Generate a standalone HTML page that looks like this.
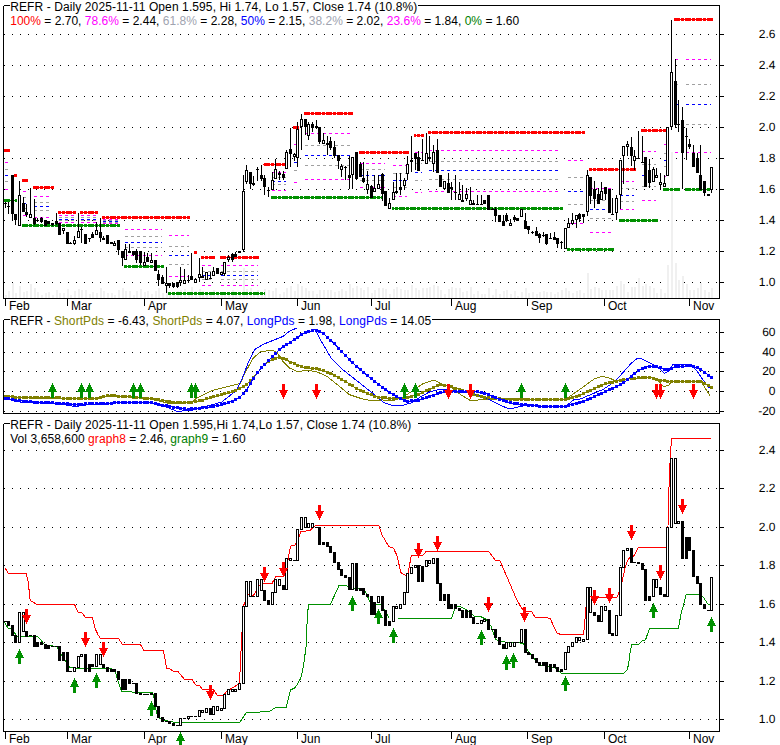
<!DOCTYPE html>
<html><head><meta charset="utf-8"><title>REFR chart</title>
<style>html,body{margin:0;padding:0;background:#fff}svg{display:block}</style></head>
<body>
<svg width="780" height="745" viewBox="0 0 780 745" shape-rendering="crispEdges" font-family="'Liberation Sans', sans-serif" font-size="12px">
<rect width="780" height="745" fill="#fff"/>
<line x1="4" x2="717" y1="34.5" y2="34.5" stroke="#000" stroke-width="1" stroke-dasharray="1 7"/>
<line x1="719" x2="724" y1="34.5" y2="34.5" stroke="#000" stroke-width="1"/>
<line x1="4" x2="717" y1="65.5" y2="65.5" stroke="#000" stroke-width="1" stroke-dasharray="1 7"/>
<line x1="719" x2="724" y1="65.5" y2="65.5" stroke="#000" stroke-width="1"/>
<line x1="4" x2="717" y1="96.5" y2="96.5" stroke="#000" stroke-width="1" stroke-dasharray="1 7"/>
<line x1="719" x2="724" y1="96.5" y2="96.5" stroke="#000" stroke-width="1"/>
<line x1="4" x2="717" y1="127.5" y2="127.5" stroke="#000" stroke-width="1" stroke-dasharray="1 7"/>
<line x1="719" x2="724" y1="127.5" y2="127.5" stroke="#000" stroke-width="1"/>
<line x1="4" x2="717" y1="158.5" y2="158.5" stroke="#000" stroke-width="1" stroke-dasharray="1 7"/>
<line x1="719" x2="724" y1="158.5" y2="158.5" stroke="#000" stroke-width="1"/>
<line x1="4" x2="717" y1="189.5" y2="189.5" stroke="#000" stroke-width="1" stroke-dasharray="1 7"/>
<line x1="719" x2="724" y1="189.5" y2="189.5" stroke="#000" stroke-width="1"/>
<line x1="4" x2="717" y1="220.5" y2="220.5" stroke="#000" stroke-width="1" stroke-dasharray="1 7"/>
<line x1="719" x2="724" y1="220.5" y2="220.5" stroke="#000" stroke-width="1"/>
<line x1="4" x2="717" y1="251.5" y2="251.5" stroke="#000" stroke-width="1" stroke-dasharray="1 7"/>
<line x1="719" x2="724" y1="251.5" y2="251.5" stroke="#000" stroke-width="1"/>
<line x1="4" x2="717" y1="282.5" y2="282.5" stroke="#000" stroke-width="1" stroke-dasharray="1 7"/>
<line x1="719" x2="724" y1="282.5" y2="282.5" stroke="#000" stroke-width="1"/>
<rect x="5" y="295" width="2" height="3" fill="#f0f0f0"/>
<rect x="8" y="291" width="2" height="7" fill="#f0f0f0"/>
<rect x="12" y="283" width="2" height="15" fill="#f0f0f0"/>
<rect x="15" y="293" width="2" height="5" fill="#f0f0f0"/>
<rect x="19" y="286" width="2" height="12" fill="#f0f0f0"/>
<rect x="23" y="292" width="2" height="6" fill="#f0f0f0"/>
<rect x="26" y="291" width="2" height="7" fill="#f0f0f0"/>
<rect x="30" y="284" width="2" height="14" fill="#f0f0f0"/>
<rect x="34" y="288" width="2" height="10" fill="#f0f0f0"/>
<rect x="37" y="292" width="2" height="6" fill="#f0f0f0"/>
<rect x="41" y="295" width="2" height="3" fill="#f0f0f0"/>
<rect x="45" y="293" width="2" height="5" fill="#f0f0f0"/>
<rect x="48" y="292" width="2" height="6" fill="#f0f0f0"/>
<rect x="52" y="295" width="2" height="3" fill="#f0f0f0"/>
<rect x="56" y="290" width="2" height="8" fill="#f0f0f0"/>
<rect x="59" y="293" width="2" height="5" fill="#f0f0f0"/>
<rect x="63" y="293" width="2" height="5" fill="#f0f0f0"/>
<rect x="67" y="289" width="2" height="9" fill="#f0f0f0"/>
<rect x="70" y="295" width="2" height="3" fill="#f0f0f0"/>
<rect x="74" y="291" width="2" height="7" fill="#f0f0f0"/>
<rect x="78" y="289" width="2" height="9" fill="#f0f0f0"/>
<rect x="81" y="290" width="2" height="8" fill="#f0f0f0"/>
<rect x="85" y="290" width="2" height="8" fill="#f0f0f0"/>
<rect x="89" y="294" width="2" height="4" fill="#f0f0f0"/>
<rect x="92" y="292" width="2" height="6" fill="#f0f0f0"/>
<rect x="96" y="293" width="2" height="5" fill="#f0f0f0"/>
<rect x="100" y="288" width="2" height="10" fill="#f0f0f0"/>
<rect x="103" y="291" width="2" height="7" fill="#f0f0f0"/>
<rect x="107" y="293" width="2" height="5" fill="#f0f0f0"/>
<rect x="111" y="293" width="2" height="5" fill="#f0f0f0"/>
<rect x="114" y="295" width="2" height="3" fill="#f0f0f0"/>
<rect x="118" y="290" width="2" height="8" fill="#f0f0f0"/>
<rect x="122" y="288" width="2" height="10" fill="#f0f0f0"/>
<rect x="125" y="291" width="2" height="7" fill="#f0f0f0"/>
<rect x="129" y="291" width="2" height="7" fill="#f0f0f0"/>
<rect x="133" y="295" width="2" height="3" fill="#f0f0f0"/>
<rect x="136" y="291" width="2" height="7" fill="#f0f0f0"/>
<rect x="140" y="289" width="2" height="9" fill="#f0f0f0"/>
<rect x="144" y="292" width="2" height="6" fill="#f0f0f0"/>
<rect x="147" y="291" width="2" height="7" fill="#f0f0f0"/>
<rect x="151" y="294" width="2" height="4" fill="#f0f0f0"/>
<rect x="155" y="291" width="2" height="7" fill="#f0f0f0"/>
<rect x="158" y="288" width="2" height="10" fill="#f0f0f0"/>
<rect x="162" y="293" width="2" height="5" fill="#f0f0f0"/>
<rect x="166" y="286" width="2" height="12" fill="#f0f0f0"/>
<rect x="169" y="295" width="2" height="3" fill="#f0f0f0"/>
<rect x="173" y="293" width="2" height="5" fill="#f0f0f0"/>
<rect x="177" y="291" width="2" height="7" fill="#f0f0f0"/>
<rect x="180" y="290" width="2" height="8" fill="#f0f0f0"/>
<rect x="184" y="289" width="2" height="9" fill="#f0f0f0"/>
<rect x="188" y="294" width="2" height="4" fill="#f0f0f0"/>
<rect x="191" y="287" width="2" height="11" fill="#f0f0f0"/>
<rect x="195" y="291" width="2" height="7" fill="#f0f0f0"/>
<rect x="199" y="289" width="2" height="9" fill="#f0f0f0"/>
<rect x="202" y="291" width="2" height="7" fill="#f0f0f0"/>
<rect x="206" y="295" width="2" height="3" fill="#f0f0f0"/>
<rect x="210" y="293" width="2" height="5" fill="#f0f0f0"/>
<rect x="213" y="290" width="2" height="8" fill="#f0f0f0"/>
<rect x="217" y="294" width="2" height="4" fill="#f0f0f0"/>
<rect x="221" y="293" width="2" height="5" fill="#f0f0f0"/>
<rect x="224" y="292" width="2" height="6" fill="#f0f0f0"/>
<rect x="228" y="292" width="2" height="6" fill="#f0f0f0"/>
<rect x="232" y="290" width="2" height="8" fill="#f0f0f0"/>
<rect x="235" y="294" width="2" height="4" fill="#f0f0f0"/>
<rect x="239" y="293" width="2" height="5" fill="#f0f0f0"/>
<rect x="243" y="268" width="2" height="30" fill="#f0f0f0"/>
<rect x="246" y="289" width="2" height="9" fill="#f0f0f0"/>
<rect x="250" y="288" width="2" height="10" fill="#f0f0f0"/>
<rect x="253" y="293" width="2" height="5" fill="#f0f0f0"/>
<rect x="257" y="290" width="2" height="8" fill="#f0f0f0"/>
<rect x="261" y="292" width="2" height="6" fill="#f0f0f0"/>
<rect x="264" y="289" width="2" height="9" fill="#f0f0f0"/>
<rect x="268" y="290" width="2" height="8" fill="#f0f0f0"/>
<rect x="272" y="291" width="2" height="7" fill="#f0f0f0"/>
<rect x="275" y="288" width="2" height="10" fill="#f0f0f0"/>
<rect x="279" y="294" width="2" height="4" fill="#f0f0f0"/>
<rect x="283" y="292" width="2" height="6" fill="#f0f0f0"/>
<rect x="286" y="288" width="2" height="10" fill="#f0f0f0"/>
<rect x="290" y="286" width="2" height="12" fill="#f0f0f0"/>
<rect x="294" y="291" width="2" height="7" fill="#f0f0f0"/>
<rect x="297" y="284" width="2" height="14" fill="#f0f0f0"/>
<rect x="301" y="286" width="2" height="12" fill="#f0f0f0"/>
<rect x="305" y="288" width="2" height="10" fill="#f0f0f0"/>
<rect x="308" y="291" width="2" height="7" fill="#f0f0f0"/>
<rect x="312" y="291" width="2" height="7" fill="#f0f0f0"/>
<rect x="316" y="294" width="2" height="4" fill="#f0f0f0"/>
<rect x="319" y="290" width="2" height="8" fill="#f0f0f0"/>
<rect x="323" y="290" width="2" height="8" fill="#f0f0f0"/>
<rect x="327" y="290" width="2" height="8" fill="#f0f0f0"/>
<rect x="330" y="290" width="2" height="8" fill="#f0f0f0"/>
<rect x="334" y="292" width="2" height="6" fill="#f0f0f0"/>
<rect x="338" y="291" width="2" height="7" fill="#f0f0f0"/>
<rect x="341" y="289" width="2" height="9" fill="#f0f0f0"/>
<rect x="345" y="291" width="2" height="7" fill="#f0f0f0"/>
<rect x="349" y="284" width="2" height="14" fill="#f0f0f0"/>
<rect x="352" y="288" width="2" height="10" fill="#f0f0f0"/>
<rect x="356" y="286" width="2" height="12" fill="#f0f0f0"/>
<rect x="360" y="288" width="2" height="10" fill="#f0f0f0"/>
<rect x="363" y="290" width="2" height="8" fill="#f0f0f0"/>
<rect x="367" y="287" width="2" height="11" fill="#f0f0f0"/>
<rect x="371" y="293" width="2" height="5" fill="#f0f0f0"/>
<rect x="374" y="290" width="2" height="8" fill="#f0f0f0"/>
<rect x="378" y="288" width="2" height="10" fill="#f0f0f0"/>
<rect x="382" y="288" width="2" height="10" fill="#f0f0f0"/>
<rect x="385" y="289" width="2" height="9" fill="#f0f0f0"/>
<rect x="389" y="294" width="2" height="4" fill="#f0f0f0"/>
<rect x="393" y="289" width="2" height="9" fill="#f0f0f0"/>
<rect x="396" y="287" width="2" height="11" fill="#f0f0f0"/>
<rect x="400" y="289" width="2" height="9" fill="#f0f0f0"/>
<rect x="404" y="290" width="2" height="8" fill="#f0f0f0"/>
<rect x="407" y="290" width="2" height="8" fill="#f0f0f0"/>
<rect x="411" y="285" width="2" height="13" fill="#f0f0f0"/>
<rect x="415" y="288" width="2" height="10" fill="#f0f0f0"/>
<rect x="418" y="290" width="2" height="8" fill="#f0f0f0"/>
<rect x="422" y="288" width="2" height="10" fill="#f0f0f0"/>
<rect x="426" y="288" width="2" height="10" fill="#f0f0f0"/>
<rect x="429" y="287" width="2" height="11" fill="#f0f0f0"/>
<rect x="433" y="285" width="2" height="13" fill="#f0f0f0"/>
<rect x="437" y="286" width="2" height="12" fill="#f0f0f0"/>
<rect x="440" y="290" width="2" height="8" fill="#f0f0f0"/>
<rect x="444" y="294" width="2" height="4" fill="#f0f0f0"/>
<rect x="448" y="289" width="2" height="9" fill="#f0f0f0"/>
<rect x="451" y="287" width="2" height="11" fill="#f0f0f0"/>
<rect x="455" y="288" width="2" height="10" fill="#f0f0f0"/>
<rect x="459" y="288" width="2" height="10" fill="#f0f0f0"/>
<rect x="462" y="292" width="2" height="6" fill="#f0f0f0"/>
<rect x="466" y="291" width="2" height="7" fill="#f0f0f0"/>
<rect x="470" y="287" width="2" height="11" fill="#f0f0f0"/>
<rect x="473" y="294" width="2" height="4" fill="#f0f0f0"/>
<rect x="477" y="291" width="2" height="7" fill="#f0f0f0"/>
<rect x="481" y="294" width="2" height="4" fill="#f0f0f0"/>
<rect x="484" y="294" width="2" height="4" fill="#f0f0f0"/>
<rect x="488" y="288" width="2" height="10" fill="#f0f0f0"/>
<rect x="492" y="295" width="2" height="3" fill="#f0f0f0"/>
<rect x="495" y="289" width="2" height="9" fill="#f0f0f0"/>
<rect x="499" y="294" width="2" height="4" fill="#f0f0f0"/>
<rect x="503" y="291" width="2" height="7" fill="#f0f0f0"/>
<rect x="506" y="290" width="2" height="8" fill="#f0f0f0"/>
<rect x="510" y="294" width="2" height="4" fill="#f0f0f0"/>
<rect x="514" y="291" width="2" height="7" fill="#f0f0f0"/>
<rect x="517" y="296" width="2" height="2" fill="#f0f0f0"/>
<rect x="521" y="292" width="2" height="6" fill="#f0f0f0"/>
<rect x="525" y="288" width="2" height="10" fill="#f0f0f0"/>
<rect x="528" y="293" width="2" height="5" fill="#f0f0f0"/>
<rect x="532" y="292" width="2" height="6" fill="#f0f0f0"/>
<rect x="536" y="294" width="2" height="4" fill="#f0f0f0"/>
<rect x="539" y="292" width="2" height="6" fill="#f0f0f0"/>
<rect x="543" y="291" width="2" height="7" fill="#f0f0f0"/>
<rect x="546" y="292" width="2" height="6" fill="#f0f0f0"/>
<rect x="550" y="292" width="2" height="6" fill="#f0f0f0"/>
<rect x="554" y="294" width="2" height="4" fill="#f0f0f0"/>
<rect x="557" y="292" width="2" height="6" fill="#f0f0f0"/>
<rect x="561" y="290" width="2" height="8" fill="#f0f0f0"/>
<rect x="565" y="288" width="2" height="10" fill="#f0f0f0"/>
<rect x="568" y="291" width="2" height="7" fill="#f0f0f0"/>
<rect x="572" y="293" width="2" height="5" fill="#f0f0f0"/>
<rect x="576" y="291" width="2" height="7" fill="#f0f0f0"/>
<rect x="579" y="290" width="2" height="8" fill="#f0f0f0"/>
<rect x="583" y="293" width="2" height="5" fill="#f0f0f0"/>
<rect x="587" y="273" width="2" height="25" fill="#f0f0f0"/>
<rect x="590" y="289" width="2" height="9" fill="#f0f0f0"/>
<rect x="594" y="287" width="2" height="11" fill="#f0f0f0"/>
<rect x="598" y="288" width="2" height="10" fill="#f0f0f0"/>
<rect x="601" y="290" width="2" height="8" fill="#f0f0f0"/>
<rect x="605" y="290" width="2" height="8" fill="#f0f0f0"/>
<rect x="609" y="290" width="2" height="8" fill="#f0f0f0"/>
<rect x="612" y="290" width="2" height="8" fill="#f0f0f0"/>
<rect x="616" y="286" width="2" height="12" fill="#f0f0f0"/>
<rect x="620" y="281" width="2" height="17" fill="#f0f0f0"/>
<rect x="623" y="284" width="2" height="14" fill="#f0f0f0"/>
<rect x="627" y="292" width="2" height="6" fill="#f0f0f0"/>
<rect x="631" y="287" width="2" height="11" fill="#f0f0f0"/>
<rect x="634" y="287" width="2" height="11" fill="#f0f0f0"/>
<rect x="638" y="278" width="2" height="20" fill="#f0f0f0"/>
<rect x="642" y="286" width="2" height="12" fill="#f0f0f0"/>
<rect x="645" y="284" width="2" height="14" fill="#f0f0f0"/>
<rect x="649" y="286" width="2" height="12" fill="#f0f0f0"/>
<rect x="653" y="288" width="2" height="10" fill="#f0f0f0"/>
<rect x="656" y="293" width="2" height="5" fill="#f0f0f0"/>
<rect x="660" y="289" width="2" height="9" fill="#f0f0f0"/>
<rect x="664" y="293" width="2" height="5" fill="#f0f0f0"/>
<rect x="667" y="265" width="2" height="33" fill="#f0f0f0"/>
<rect x="671" y="152" width="2" height="146" fill="#f0f0f0"/>
<rect x="675" y="263" width="2" height="35" fill="#f0f0f0"/>
<rect x="678" y="280" width="2" height="18" fill="#f0f0f0"/>
<rect x="682" y="276" width="2" height="22" fill="#f0f0f0"/>
<rect x="686" y="284" width="2" height="14" fill="#f0f0f0"/>
<rect x="689" y="290" width="2" height="8" fill="#f0f0f0"/>
<rect x="693" y="290" width="2" height="8" fill="#f0f0f0"/>
<rect x="697" y="288" width="2" height="10" fill="#f0f0f0"/>
<rect x="700" y="283" width="2" height="15" fill="#f0f0f0"/>
<rect x="704" y="290" width="2" height="8" fill="#f0f0f0"/>
<rect x="708" y="292" width="2" height="6" fill="#f0f0f0"/>
<rect x="711" y="288" width="2" height="10" fill="#f0f0f0"/>
<rect x="5" y="162" width="3" height="1" fill="#ff00ff"/>
<rect x="5" y="169" width="3" height="1" fill="#a0a0a0"/>
<rect x="5" y="175" width="3" height="1" fill="#0000ff"/>
<rect x="5" y="181" width="3" height="1" fill="#a0a0a0"/>
<rect x="5" y="189" width="3" height="1" fill="#ff00ff"/>
<rect x="23" y="191" width="3" height="1" fill="#ff00ff"/>
<rect x="23" y="197" width="3" height="1" fill="#a0a0a0"/>
<rect x="23" y="203" width="3" height="1" fill="#0000ff"/>
<rect x="23" y="208" width="3" height="1" fill="#a0a0a0"/>
<rect x="23" y="215" width="3" height="1" fill="#ff00ff"/>
<rect x="34" y="196" width="3" height="1" fill="#ff00ff"/>
<rect x="40" y="196" width="3" height="1" fill="#ff00ff"/>
<rect x="46" y="196" width="3" height="1" fill="#ff00ff"/>
<rect x="34" y="202" width="3" height="1" fill="#a0a0a0"/>
<rect x="40" y="202" width="3" height="1" fill="#a0a0a0"/>
<rect x="46" y="202" width="3" height="1" fill="#a0a0a0"/>
<rect x="34" y="206" width="3" height="1" fill="#0000ff"/>
<rect x="40" y="206" width="3" height="1" fill="#0000ff"/>
<rect x="46" y="206" width="3" height="1" fill="#0000ff"/>
<rect x="34" y="210" width="3" height="1" fill="#a0a0a0"/>
<rect x="40" y="210" width="3" height="1" fill="#a0a0a0"/>
<rect x="46" y="210" width="3" height="1" fill="#a0a0a0"/>
<rect x="34" y="217" width="3" height="1" fill="#ff00ff"/>
<rect x="40" y="217" width="3" height="1" fill="#ff00ff"/>
<rect x="46" y="217" width="3" height="1" fill="#ff00ff"/>
<rect x="59" y="215" width="3" height="1" fill="#ff00ff"/>
<rect x="65" y="215" width="3" height="1" fill="#ff00ff"/>
<rect x="71" y="215" width="3" height="1" fill="#ff00ff"/>
<rect x="59" y="217" width="3" height="1" fill="#a0a0a0"/>
<rect x="65" y="217" width="3" height="1" fill="#a0a0a0"/>
<rect x="71" y="217" width="3" height="1" fill="#a0a0a0"/>
<rect x="59" y="219" width="3" height="1" fill="#0000ff"/>
<rect x="65" y="219" width="3" height="1" fill="#0000ff"/>
<rect x="71" y="219" width="3" height="1" fill="#0000ff"/>
<rect x="59" y="220" width="3" height="1" fill="#a0a0a0"/>
<rect x="65" y="220" width="3" height="1" fill="#a0a0a0"/>
<rect x="71" y="220" width="3" height="1" fill="#a0a0a0"/>
<rect x="59" y="222" width="3" height="1" fill="#ff00ff"/>
<rect x="65" y="222" width="3" height="1" fill="#ff00ff"/>
<rect x="71" y="222" width="3" height="1" fill="#ff00ff"/>
<rect x="81" y="215" width="3" height="1" fill="#ff00ff"/>
<rect x="87" y="215" width="3" height="1" fill="#ff00ff"/>
<rect x="93" y="215" width="3" height="1" fill="#ff00ff"/>
<rect x="81" y="217" width="3" height="1" fill="#a0a0a0"/>
<rect x="87" y="217" width="3" height="1" fill="#a0a0a0"/>
<rect x="93" y="217" width="3" height="1" fill="#a0a0a0"/>
<rect x="81" y="219" width="3" height="1" fill="#0000ff"/>
<rect x="87" y="219" width="3" height="1" fill="#0000ff"/>
<rect x="93" y="219" width="3" height="1" fill="#0000ff"/>
<rect x="81" y="220" width="3" height="1" fill="#a0a0a0"/>
<rect x="87" y="220" width="3" height="1" fill="#a0a0a0"/>
<rect x="93" y="220" width="3" height="1" fill="#a0a0a0"/>
<rect x="81" y="222" width="3" height="1" fill="#ff00ff"/>
<rect x="87" y="222" width="3" height="1" fill="#ff00ff"/>
<rect x="93" y="222" width="3" height="1" fill="#ff00ff"/>
<rect x="103" y="219" width="3" height="1" fill="#ff00ff"/>
<rect x="109" y="219" width="3" height="1" fill="#ff00ff"/>
<rect x="115" y="219" width="3" height="1" fill="#ff00ff"/>
<rect x="103" y="220" width="3" height="1" fill="#a0a0a0"/>
<rect x="109" y="220" width="3" height="1" fill="#a0a0a0"/>
<rect x="115" y="220" width="3" height="1" fill="#a0a0a0"/>
<rect x="103" y="221" width="3" height="1" fill="#0000ff"/>
<rect x="109" y="221" width="3" height="1" fill="#0000ff"/>
<rect x="115" y="221" width="3" height="1" fill="#0000ff"/>
<rect x="103" y="222" width="3" height="1" fill="#a0a0a0"/>
<rect x="109" y="222" width="3" height="1" fill="#a0a0a0"/>
<rect x="115" y="222" width="3" height="1" fill="#a0a0a0"/>
<rect x="103" y="223" width="3" height="1" fill="#ff00ff"/>
<rect x="109" y="223" width="3" height="1" fill="#ff00ff"/>
<rect x="115" y="223" width="3" height="1" fill="#ff00ff"/>
<rect x="125" y="229" width="3" height="1" fill="#ff00ff"/>
<rect x="131" y="229" width="3" height="1" fill="#ff00ff"/>
<rect x="137" y="229" width="3" height="1" fill="#ff00ff"/>
<rect x="143" y="229" width="3" height="1" fill="#ff00ff"/>
<rect x="149" y="229" width="3" height="1" fill="#ff00ff"/>
<rect x="155" y="229" width="3" height="1" fill="#ff00ff"/>
<rect x="161" y="229" width="1.3" height="1" fill="#ff00ff"/>
<rect x="125" y="236" width="3" height="1" fill="#a0a0a0"/>
<rect x="131" y="236" width="3" height="1" fill="#a0a0a0"/>
<rect x="137" y="236" width="3" height="1" fill="#a0a0a0"/>
<rect x="143" y="236" width="3" height="1" fill="#a0a0a0"/>
<rect x="149" y="236" width="3" height="1" fill="#a0a0a0"/>
<rect x="155" y="236" width="3" height="1" fill="#a0a0a0"/>
<rect x="161" y="236" width="1.3" height="1" fill="#a0a0a0"/>
<rect x="125" y="242" width="3" height="1" fill="#0000ff"/>
<rect x="131" y="242" width="3" height="1" fill="#0000ff"/>
<rect x="137" y="242" width="3" height="1" fill="#0000ff"/>
<rect x="143" y="242" width="3" height="1" fill="#0000ff"/>
<rect x="149" y="242" width="3" height="1" fill="#0000ff"/>
<rect x="155" y="242" width="3" height="1" fill="#0000ff"/>
<rect x="161" y="242" width="1.3" height="1" fill="#0000ff"/>
<rect x="125" y="247" width="3" height="1" fill="#a0a0a0"/>
<rect x="131" y="247" width="3" height="1" fill="#a0a0a0"/>
<rect x="137" y="247" width="3" height="1" fill="#a0a0a0"/>
<rect x="143" y="247" width="3" height="1" fill="#a0a0a0"/>
<rect x="149" y="247" width="3" height="1" fill="#a0a0a0"/>
<rect x="155" y="247" width="3" height="1" fill="#a0a0a0"/>
<rect x="161" y="247" width="1.3" height="1" fill="#a0a0a0"/>
<rect x="125" y="255" width="3" height="1" fill="#ff00ff"/>
<rect x="131" y="255" width="3" height="1" fill="#ff00ff"/>
<rect x="137" y="255" width="3" height="1" fill="#ff00ff"/>
<rect x="143" y="255" width="3" height="1" fill="#ff00ff"/>
<rect x="149" y="255" width="3" height="1" fill="#ff00ff"/>
<rect x="155" y="255" width="3" height="1" fill="#ff00ff"/>
<rect x="161" y="255" width="1.3" height="1" fill="#ff00ff"/>
<rect x="169" y="235" width="3" height="1" fill="#ff00ff"/>
<rect x="175" y="235" width="3" height="1" fill="#ff00ff"/>
<rect x="181" y="235" width="3" height="1" fill="#ff00ff"/>
<rect x="187" y="235" width="1.5" height="1" fill="#ff00ff"/>
<rect x="169" y="246" width="3" height="1" fill="#a0a0a0"/>
<rect x="175" y="246" width="3" height="1" fill="#a0a0a0"/>
<rect x="181" y="246" width="3" height="1" fill="#a0a0a0"/>
<rect x="187" y="246" width="1.5" height="1" fill="#a0a0a0"/>
<rect x="169" y="255" width="3" height="1" fill="#0000ff"/>
<rect x="175" y="255" width="3" height="1" fill="#0000ff"/>
<rect x="181" y="255" width="3" height="1" fill="#0000ff"/>
<rect x="187" y="255" width="1.5" height="1" fill="#0000ff"/>
<rect x="169" y="264" width="3" height="1" fill="#a0a0a0"/>
<rect x="175" y="264" width="3" height="1" fill="#a0a0a0"/>
<rect x="181" y="264" width="3" height="1" fill="#a0a0a0"/>
<rect x="187" y="264" width="1.5" height="1" fill="#a0a0a0"/>
<rect x="169" y="276" width="3" height="1" fill="#ff00ff"/>
<rect x="175" y="276" width="3" height="1" fill="#ff00ff"/>
<rect x="181" y="276" width="3" height="1" fill="#ff00ff"/>
<rect x="187" y="276" width="1.5" height="1" fill="#ff00ff"/>
<rect x="202" y="265" width="3" height="1" fill="#ff00ff"/>
<rect x="208" y="265" width="3" height="1" fill="#ff00ff"/>
<rect x="202" y="271" width="3" height="1" fill="#a0a0a0"/>
<rect x="208" y="271" width="3" height="1" fill="#a0a0a0"/>
<rect x="202" y="275" width="3" height="1" fill="#0000ff"/>
<rect x="208" y="275" width="3" height="1" fill="#0000ff"/>
<rect x="202" y="279" width="3" height="1" fill="#a0a0a0"/>
<rect x="208" y="279" width="3" height="1" fill="#a0a0a0"/>
<rect x="202" y="285" width="3" height="1" fill="#ff00ff"/>
<rect x="208" y="285" width="3" height="1" fill="#ff00ff"/>
<rect x="221" y="265" width="3" height="1" fill="#ff00ff"/>
<rect x="227" y="265" width="3" height="1" fill="#ff00ff"/>
<rect x="233" y="265" width="3" height="1" fill="#ff00ff"/>
<rect x="239" y="265" width="3" height="1" fill="#ff00ff"/>
<rect x="245" y="265" width="3" height="1" fill="#ff00ff"/>
<rect x="251" y="265" width="3" height="1" fill="#ff00ff"/>
<rect x="257" y="265" width="1" height="1" fill="#ff00ff"/>
<rect x="221" y="271" width="3" height="1" fill="#a0a0a0"/>
<rect x="227" y="271" width="3" height="1" fill="#a0a0a0"/>
<rect x="233" y="271" width="3" height="1" fill="#a0a0a0"/>
<rect x="239" y="271" width="3" height="1" fill="#a0a0a0"/>
<rect x="245" y="271" width="3" height="1" fill="#a0a0a0"/>
<rect x="251" y="271" width="3" height="1" fill="#a0a0a0"/>
<rect x="257" y="271" width="1" height="1" fill="#a0a0a0"/>
<rect x="221" y="275" width="3" height="1" fill="#0000ff"/>
<rect x="227" y="275" width="3" height="1" fill="#0000ff"/>
<rect x="233" y="275" width="3" height="1" fill="#0000ff"/>
<rect x="239" y="275" width="3" height="1" fill="#0000ff"/>
<rect x="245" y="275" width="3" height="1" fill="#0000ff"/>
<rect x="251" y="275" width="3" height="1" fill="#0000ff"/>
<rect x="257" y="275" width="1" height="1" fill="#0000ff"/>
<rect x="221" y="279" width="3" height="1" fill="#a0a0a0"/>
<rect x="227" y="279" width="3" height="1" fill="#a0a0a0"/>
<rect x="233" y="279" width="3" height="1" fill="#a0a0a0"/>
<rect x="239" y="279" width="3" height="1" fill="#a0a0a0"/>
<rect x="245" y="279" width="3" height="1" fill="#a0a0a0"/>
<rect x="251" y="279" width="3" height="1" fill="#a0a0a0"/>
<rect x="257" y="279" width="1" height="1" fill="#a0a0a0"/>
<rect x="221" y="285" width="3" height="1" fill="#ff00ff"/>
<rect x="227" y="285" width="3" height="1" fill="#ff00ff"/>
<rect x="233" y="285" width="3" height="1" fill="#ff00ff"/>
<rect x="239" y="285" width="3" height="1" fill="#ff00ff"/>
<rect x="245" y="285" width="3" height="1" fill="#ff00ff"/>
<rect x="251" y="285" width="3" height="1" fill="#ff00ff"/>
<rect x="257" y="285" width="1" height="1" fill="#ff00ff"/>
<rect x="272" y="172" width="3" height="1" fill="#ff00ff"/>
<rect x="278" y="172" width="3" height="1" fill="#ff00ff"/>
<rect x="284" y="172" width="2" height="1" fill="#ff00ff"/>
<rect x="272" y="177" width="3" height="1" fill="#a0a0a0"/>
<rect x="278" y="177" width="3" height="1" fill="#a0a0a0"/>
<rect x="284" y="177" width="2" height="1" fill="#a0a0a0"/>
<rect x="272" y="181" width="3" height="1" fill="#0000ff"/>
<rect x="278" y="181" width="3" height="1" fill="#0000ff"/>
<rect x="284" y="181" width="2" height="1" fill="#0000ff"/>
<rect x="272" y="184" width="3" height="1" fill="#a0a0a0"/>
<rect x="278" y="184" width="3" height="1" fill="#a0a0a0"/>
<rect x="284" y="184" width="2" height="1" fill="#a0a0a0"/>
<rect x="272" y="190" width="3" height="1" fill="#ff00ff"/>
<rect x="278" y="190" width="3" height="1" fill="#ff00ff"/>
<rect x="284" y="190" width="2" height="1" fill="#ff00ff"/>
<rect x="294" y="144" width="3" height="1" fill="#ff00ff"/>
<rect x="294" y="154" width="3" height="1" fill="#a0a0a0"/>
<rect x="294" y="162" width="3" height="1" fill="#0000ff"/>
<rect x="294" y="170" width="3" height="1" fill="#a0a0a0"/>
<rect x="294" y="182" width="3" height="1" fill="#ff00ff"/>
<rect x="305" y="133" width="3" height="1" fill="#ff00ff"/>
<rect x="311" y="133" width="3" height="1" fill="#ff00ff"/>
<rect x="317" y="133" width="3" height="1" fill="#ff00ff"/>
<rect x="323" y="133" width="3" height="1" fill="#ff00ff"/>
<rect x="329" y="133" width="3" height="1" fill="#ff00ff"/>
<rect x="335" y="133" width="3" height="1" fill="#ff00ff"/>
<rect x="341" y="133" width="3" height="1" fill="#ff00ff"/>
<rect x="347" y="133" width="3" height="1" fill="#ff00ff"/>
<rect x="305" y="145" width="3" height="1" fill="#a0a0a0"/>
<rect x="311" y="145" width="3" height="1" fill="#a0a0a0"/>
<rect x="317" y="145" width="3" height="1" fill="#a0a0a0"/>
<rect x="323" y="145" width="3" height="1" fill="#a0a0a0"/>
<rect x="329" y="145" width="3" height="1" fill="#a0a0a0"/>
<rect x="335" y="145" width="3" height="1" fill="#a0a0a0"/>
<rect x="341" y="145" width="3" height="1" fill="#a0a0a0"/>
<rect x="347" y="145" width="3" height="1" fill="#a0a0a0"/>
<rect x="305" y="155" width="3" height="1" fill="#0000ff"/>
<rect x="311" y="155" width="3" height="1" fill="#0000ff"/>
<rect x="317" y="155" width="3" height="1" fill="#0000ff"/>
<rect x="323" y="155" width="3" height="1" fill="#0000ff"/>
<rect x="329" y="155" width="3" height="1" fill="#0000ff"/>
<rect x="335" y="155" width="3" height="1" fill="#0000ff"/>
<rect x="341" y="155" width="3" height="1" fill="#0000ff"/>
<rect x="347" y="155" width="3" height="1" fill="#0000ff"/>
<rect x="305" y="165" width="3" height="1" fill="#a0a0a0"/>
<rect x="311" y="165" width="3" height="1" fill="#a0a0a0"/>
<rect x="317" y="165" width="3" height="1" fill="#a0a0a0"/>
<rect x="323" y="165" width="3" height="1" fill="#a0a0a0"/>
<rect x="329" y="165" width="3" height="1" fill="#a0a0a0"/>
<rect x="335" y="165" width="3" height="1" fill="#a0a0a0"/>
<rect x="341" y="165" width="3" height="1" fill="#a0a0a0"/>
<rect x="347" y="165" width="3" height="1" fill="#a0a0a0"/>
<rect x="305" y="179" width="3" height="1" fill="#ff00ff"/>
<rect x="311" y="179" width="3" height="1" fill="#ff00ff"/>
<rect x="317" y="179" width="3" height="1" fill="#ff00ff"/>
<rect x="323" y="179" width="3" height="1" fill="#ff00ff"/>
<rect x="329" y="179" width="3" height="1" fill="#ff00ff"/>
<rect x="335" y="179" width="3" height="1" fill="#ff00ff"/>
<rect x="341" y="179" width="3" height="1" fill="#ff00ff"/>
<rect x="347" y="179" width="3" height="1" fill="#ff00ff"/>
<rect x="360" y="163" width="3" height="1" fill="#ff00ff"/>
<rect x="366" y="163" width="3" height="1" fill="#ff00ff"/>
<rect x="372" y="163" width="3" height="1" fill="#ff00ff"/>
<rect x="378" y="163" width="3" height="1" fill="#ff00ff"/>
<rect x="384" y="163" width="1" height="1" fill="#ff00ff"/>
<rect x="360" y="169" width="3" height="1" fill="#a0a0a0"/>
<rect x="366" y="169" width="3" height="1" fill="#a0a0a0"/>
<rect x="372" y="169" width="3" height="1" fill="#a0a0a0"/>
<rect x="378" y="169" width="3" height="1" fill="#a0a0a0"/>
<rect x="384" y="169" width="1" height="1" fill="#a0a0a0"/>
<rect x="360" y="175" width="3" height="1" fill="#0000ff"/>
<rect x="366" y="175" width="3" height="1" fill="#0000ff"/>
<rect x="372" y="175" width="3" height="1" fill="#0000ff"/>
<rect x="378" y="175" width="3" height="1" fill="#0000ff"/>
<rect x="384" y="175" width="1" height="1" fill="#0000ff"/>
<rect x="360" y="180" width="3" height="1" fill="#a0a0a0"/>
<rect x="366" y="180" width="3" height="1" fill="#a0a0a0"/>
<rect x="372" y="180" width="3" height="1" fill="#a0a0a0"/>
<rect x="378" y="180" width="3" height="1" fill="#a0a0a0"/>
<rect x="384" y="180" width="1" height="1" fill="#a0a0a0"/>
<rect x="360" y="187" width="3" height="1" fill="#ff00ff"/>
<rect x="366" y="187" width="3" height="1" fill="#ff00ff"/>
<rect x="372" y="187" width="3" height="1" fill="#ff00ff"/>
<rect x="378" y="187" width="3" height="1" fill="#ff00ff"/>
<rect x="384" y="187" width="1" height="1" fill="#ff00ff"/>
<rect x="393" y="165" width="3" height="1" fill="#ff00ff"/>
<rect x="399" y="165" width="3" height="1" fill="#ff00ff"/>
<rect x="405" y="165" width="2" height="1" fill="#ff00ff"/>
<rect x="393" y="173" width="3" height="1" fill="#a0a0a0"/>
<rect x="399" y="173" width="3" height="1" fill="#a0a0a0"/>
<rect x="405" y="173" width="2" height="1" fill="#a0a0a0"/>
<rect x="393" y="180" width="3" height="1" fill="#0000ff"/>
<rect x="399" y="180" width="3" height="1" fill="#0000ff"/>
<rect x="405" y="180" width="2" height="1" fill="#0000ff"/>
<rect x="393" y="187" width="3" height="1" fill="#a0a0a0"/>
<rect x="399" y="187" width="3" height="1" fill="#a0a0a0"/>
<rect x="405" y="187" width="2" height="1" fill="#a0a0a0"/>
<rect x="393" y="196" width="3" height="1" fill="#ff00ff"/>
<rect x="399" y="196" width="3" height="1" fill="#ff00ff"/>
<rect x="405" y="196" width="2" height="1" fill="#ff00ff"/>
<rect x="415" y="152" width="3" height="1" fill="#ff00ff"/>
<rect x="421" y="152" width="1" height="1" fill="#ff00ff"/>
<rect x="415" y="163" width="3" height="1" fill="#a0a0a0"/>
<rect x="421" y="163" width="1" height="1" fill="#a0a0a0"/>
<rect x="415" y="172" width="3" height="1" fill="#0000ff"/>
<rect x="421" y="172" width="1" height="1" fill="#0000ff"/>
<rect x="415" y="180" width="3" height="1" fill="#a0a0a0"/>
<rect x="421" y="180" width="1" height="1" fill="#a0a0a0"/>
<rect x="415" y="192" width="3" height="1" fill="#ff00ff"/>
<rect x="421" y="192" width="1" height="1" fill="#ff00ff"/>
<rect x="429" y="150" width="3" height="1" fill="#ff00ff"/>
<rect x="435" y="150" width="3" height="1" fill="#ff00ff"/>
<rect x="441" y="150" width="3" height="1" fill="#ff00ff"/>
<rect x="447" y="150" width="3" height="1" fill="#ff00ff"/>
<rect x="453" y="150" width="3" height="1" fill="#ff00ff"/>
<rect x="459" y="150" width="3" height="1" fill="#ff00ff"/>
<rect x="465" y="150" width="3" height="1" fill="#ff00ff"/>
<rect x="471" y="150" width="3" height="1" fill="#ff00ff"/>
<rect x="477" y="150" width="3" height="1" fill="#ff00ff"/>
<rect x="483" y="150" width="3" height="1" fill="#ff00ff"/>
<rect x="489" y="150" width="3" height="1" fill="#ff00ff"/>
<rect x="495" y="150" width="3" height="1" fill="#ff00ff"/>
<rect x="501" y="150" width="3" height="1" fill="#ff00ff"/>
<rect x="507" y="150" width="3" height="1" fill="#ff00ff"/>
<rect x="513" y="150" width="3" height="1" fill="#ff00ff"/>
<rect x="519" y="150" width="3" height="1" fill="#ff00ff"/>
<rect x="525" y="150" width="3" height="1" fill="#ff00ff"/>
<rect x="531" y="150" width="3" height="1" fill="#ff00ff"/>
<rect x="537" y="150" width="3" height="1" fill="#ff00ff"/>
<rect x="543" y="150" width="3" height="1" fill="#ff00ff"/>
<rect x="549" y="150" width="3" height="1" fill="#ff00ff"/>
<rect x="555" y="150" width="3" height="1" fill="#ff00ff"/>
<rect x="429" y="161" width="3" height="1" fill="#a0a0a0"/>
<rect x="435" y="161" width="3" height="1" fill="#a0a0a0"/>
<rect x="441" y="161" width="3" height="1" fill="#a0a0a0"/>
<rect x="447" y="161" width="3" height="1" fill="#a0a0a0"/>
<rect x="453" y="161" width="3" height="1" fill="#a0a0a0"/>
<rect x="459" y="161" width="3" height="1" fill="#a0a0a0"/>
<rect x="465" y="161" width="3" height="1" fill="#a0a0a0"/>
<rect x="471" y="161" width="3" height="1" fill="#a0a0a0"/>
<rect x="477" y="161" width="3" height="1" fill="#a0a0a0"/>
<rect x="483" y="161" width="3" height="1" fill="#a0a0a0"/>
<rect x="489" y="161" width="3" height="1" fill="#a0a0a0"/>
<rect x="495" y="161" width="3" height="1" fill="#a0a0a0"/>
<rect x="501" y="161" width="3" height="1" fill="#a0a0a0"/>
<rect x="507" y="161" width="3" height="1" fill="#a0a0a0"/>
<rect x="513" y="161" width="3" height="1" fill="#a0a0a0"/>
<rect x="519" y="161" width="3" height="1" fill="#a0a0a0"/>
<rect x="525" y="161" width="3" height="1" fill="#a0a0a0"/>
<rect x="531" y="161" width="3" height="1" fill="#a0a0a0"/>
<rect x="537" y="161" width="3" height="1" fill="#a0a0a0"/>
<rect x="543" y="161" width="3" height="1" fill="#a0a0a0"/>
<rect x="549" y="161" width="3" height="1" fill="#a0a0a0"/>
<rect x="555" y="161" width="3" height="1" fill="#a0a0a0"/>
<rect x="429" y="170" width="3" height="1" fill="#0000ff"/>
<rect x="435" y="170" width="3" height="1" fill="#0000ff"/>
<rect x="441" y="170" width="3" height="1" fill="#0000ff"/>
<rect x="447" y="170" width="3" height="1" fill="#0000ff"/>
<rect x="453" y="170" width="3" height="1" fill="#0000ff"/>
<rect x="459" y="170" width="3" height="1" fill="#0000ff"/>
<rect x="465" y="170" width="3" height="1" fill="#0000ff"/>
<rect x="471" y="170" width="3" height="1" fill="#0000ff"/>
<rect x="477" y="170" width="3" height="1" fill="#0000ff"/>
<rect x="483" y="170" width="3" height="1" fill="#0000ff"/>
<rect x="489" y="170" width="3" height="1" fill="#0000ff"/>
<rect x="495" y="170" width="3" height="1" fill="#0000ff"/>
<rect x="501" y="170" width="3" height="1" fill="#0000ff"/>
<rect x="507" y="170" width="3" height="1" fill="#0000ff"/>
<rect x="513" y="170" width="3" height="1" fill="#0000ff"/>
<rect x="519" y="170" width="3" height="1" fill="#0000ff"/>
<rect x="525" y="170" width="3" height="1" fill="#0000ff"/>
<rect x="531" y="170" width="3" height="1" fill="#0000ff"/>
<rect x="537" y="170" width="3" height="1" fill="#0000ff"/>
<rect x="543" y="170" width="3" height="1" fill="#0000ff"/>
<rect x="549" y="170" width="3" height="1" fill="#0000ff"/>
<rect x="555" y="170" width="3" height="1" fill="#0000ff"/>
<rect x="429" y="179" width="3" height="1" fill="#a0a0a0"/>
<rect x="435" y="179" width="3" height="1" fill="#a0a0a0"/>
<rect x="441" y="179" width="3" height="1" fill="#a0a0a0"/>
<rect x="447" y="179" width="3" height="1" fill="#a0a0a0"/>
<rect x="453" y="179" width="3" height="1" fill="#a0a0a0"/>
<rect x="459" y="179" width="3" height="1" fill="#a0a0a0"/>
<rect x="465" y="179" width="3" height="1" fill="#a0a0a0"/>
<rect x="471" y="179" width="3" height="1" fill="#a0a0a0"/>
<rect x="477" y="179" width="3" height="1" fill="#a0a0a0"/>
<rect x="483" y="179" width="3" height="1" fill="#a0a0a0"/>
<rect x="489" y="179" width="3" height="1" fill="#a0a0a0"/>
<rect x="495" y="179" width="3" height="1" fill="#a0a0a0"/>
<rect x="501" y="179" width="3" height="1" fill="#a0a0a0"/>
<rect x="507" y="179" width="3" height="1" fill="#a0a0a0"/>
<rect x="513" y="179" width="3" height="1" fill="#a0a0a0"/>
<rect x="519" y="179" width="3" height="1" fill="#a0a0a0"/>
<rect x="525" y="179" width="3" height="1" fill="#a0a0a0"/>
<rect x="531" y="179" width="3" height="1" fill="#a0a0a0"/>
<rect x="537" y="179" width="3" height="1" fill="#a0a0a0"/>
<rect x="543" y="179" width="3" height="1" fill="#a0a0a0"/>
<rect x="549" y="179" width="3" height="1" fill="#a0a0a0"/>
<rect x="555" y="179" width="3" height="1" fill="#a0a0a0"/>
<rect x="429" y="191" width="3" height="1" fill="#ff00ff"/>
<rect x="435" y="191" width="3" height="1" fill="#ff00ff"/>
<rect x="441" y="191" width="3" height="1" fill="#ff00ff"/>
<rect x="447" y="191" width="3" height="1" fill="#ff00ff"/>
<rect x="453" y="191" width="3" height="1" fill="#ff00ff"/>
<rect x="459" y="191" width="3" height="1" fill="#ff00ff"/>
<rect x="465" y="191" width="3" height="1" fill="#ff00ff"/>
<rect x="471" y="191" width="3" height="1" fill="#ff00ff"/>
<rect x="477" y="191" width="3" height="1" fill="#ff00ff"/>
<rect x="483" y="191" width="3" height="1" fill="#ff00ff"/>
<rect x="489" y="191" width="3" height="1" fill="#ff00ff"/>
<rect x="495" y="191" width="3" height="1" fill="#ff00ff"/>
<rect x="501" y="191" width="3" height="1" fill="#ff00ff"/>
<rect x="507" y="191" width="3" height="1" fill="#ff00ff"/>
<rect x="513" y="191" width="3" height="1" fill="#ff00ff"/>
<rect x="519" y="191" width="3" height="1" fill="#ff00ff"/>
<rect x="525" y="191" width="3" height="1" fill="#ff00ff"/>
<rect x="531" y="191" width="3" height="1" fill="#ff00ff"/>
<rect x="537" y="191" width="3" height="1" fill="#ff00ff"/>
<rect x="543" y="191" width="3" height="1" fill="#ff00ff"/>
<rect x="549" y="191" width="3" height="1" fill="#ff00ff"/>
<rect x="555" y="191" width="3" height="1" fill="#ff00ff"/>
<rect x="568" y="160" width="3" height="1" fill="#ff00ff"/>
<rect x="574" y="160" width="3" height="1" fill="#ff00ff"/>
<rect x="580" y="160" width="3" height="1" fill="#ff00ff"/>
<rect x="568" y="177" width="3" height="1" fill="#a0a0a0"/>
<rect x="574" y="177" width="3" height="1" fill="#a0a0a0"/>
<rect x="580" y="177" width="3" height="1" fill="#a0a0a0"/>
<rect x="568" y="191" width="3" height="1" fill="#0000ff"/>
<rect x="574" y="191" width="3" height="1" fill="#0000ff"/>
<rect x="580" y="191" width="3" height="1" fill="#0000ff"/>
<rect x="568" y="204" width="3" height="1" fill="#a0a0a0"/>
<rect x="574" y="204" width="3" height="1" fill="#a0a0a0"/>
<rect x="580" y="204" width="3" height="1" fill="#a0a0a0"/>
<rect x="568" y="223" width="3" height="1" fill="#ff00ff"/>
<rect x="574" y="223" width="3" height="1" fill="#ff00ff"/>
<rect x="580" y="223" width="3" height="1" fill="#ff00ff"/>
<rect x="590" y="188" width="3" height="1" fill="#ff00ff"/>
<rect x="596" y="188" width="3" height="1" fill="#ff00ff"/>
<rect x="602" y="188" width="3" height="1" fill="#ff00ff"/>
<rect x="608" y="188" width="3" height="1" fill="#ff00ff"/>
<rect x="590" y="200" width="3" height="1" fill="#a0a0a0"/>
<rect x="596" y="200" width="3" height="1" fill="#a0a0a0"/>
<rect x="602" y="200" width="3" height="1" fill="#a0a0a0"/>
<rect x="608" y="200" width="3" height="1" fill="#a0a0a0"/>
<rect x="590" y="209" width="3" height="1" fill="#0000ff"/>
<rect x="596" y="209" width="3" height="1" fill="#0000ff"/>
<rect x="602" y="209" width="3" height="1" fill="#0000ff"/>
<rect x="608" y="209" width="3" height="1" fill="#0000ff"/>
<rect x="590" y="218" width="3" height="1" fill="#a0a0a0"/>
<rect x="596" y="218" width="3" height="1" fill="#a0a0a0"/>
<rect x="602" y="218" width="3" height="1" fill="#a0a0a0"/>
<rect x="608" y="218" width="3" height="1" fill="#a0a0a0"/>
<rect x="590" y="232" width="3" height="1" fill="#ff00ff"/>
<rect x="596" y="232" width="3" height="1" fill="#ff00ff"/>
<rect x="602" y="232" width="3" height="1" fill="#ff00ff"/>
<rect x="608" y="232" width="3" height="1" fill="#ff00ff"/>
<rect x="620" y="181" width="3" height="1" fill="#ff00ff"/>
<rect x="626" y="181" width="3" height="1" fill="#ff00ff"/>
<rect x="632" y="181" width="2" height="1" fill="#ff00ff"/>
<rect x="620" y="188" width="3" height="1" fill="#a0a0a0"/>
<rect x="626" y="188" width="3" height="1" fill="#a0a0a0"/>
<rect x="632" y="188" width="2" height="1" fill="#a0a0a0"/>
<rect x="620" y="195" width="3" height="1" fill="#0000ff"/>
<rect x="626" y="195" width="3" height="1" fill="#0000ff"/>
<rect x="632" y="195" width="2" height="1" fill="#0000ff"/>
<rect x="620" y="201" width="3" height="1" fill="#a0a0a0"/>
<rect x="626" y="201" width="3" height="1" fill="#a0a0a0"/>
<rect x="632" y="201" width="2" height="1" fill="#a0a0a0"/>
<rect x="620" y="209" width="3" height="1" fill="#ff00ff"/>
<rect x="626" y="209" width="3" height="1" fill="#ff00ff"/>
<rect x="632" y="209" width="2" height="1" fill="#ff00ff"/>
<rect x="642" y="151" width="3" height="1" fill="#ff00ff"/>
<rect x="648" y="151" width="3" height="1" fill="#ff00ff"/>
<rect x="654" y="151" width="2" height="1" fill="#ff00ff"/>
<rect x="642" y="164" width="3" height="1" fill="#a0a0a0"/>
<rect x="648" y="164" width="3" height="1" fill="#a0a0a0"/>
<rect x="654" y="164" width="2" height="1" fill="#a0a0a0"/>
<rect x="642" y="175" width="3" height="1" fill="#0000ff"/>
<rect x="648" y="175" width="3" height="1" fill="#0000ff"/>
<rect x="654" y="175" width="2" height="1" fill="#0000ff"/>
<rect x="642" y="186" width="3" height="1" fill="#a0a0a0"/>
<rect x="648" y="186" width="3" height="1" fill="#a0a0a0"/>
<rect x="654" y="186" width="2" height="1" fill="#a0a0a0"/>
<rect x="642" y="200" width="3" height="1" fill="#ff00ff"/>
<rect x="648" y="200" width="3" height="1" fill="#ff00ff"/>
<rect x="654" y="200" width="2" height="1" fill="#ff00ff"/>
<rect x="664" y="144" width="2" height="1" fill="#ff00ff"/>
<rect x="664" y="153" width="2" height="1" fill="#a0a0a0"/>
<rect x="664" y="160" width="2" height="1" fill="#0000ff"/>
<rect x="664" y="166" width="2" height="1" fill="#a0a0a0"/>
<rect x="664" y="176" width="2" height="1" fill="#ff00ff"/>
<rect x="675" y="59" width="3" height="1" fill="#ff00ff"/>
<rect x="675" y="84" width="3" height="1" fill="#a0a0a0"/>
<rect x="675" y="104" width="3" height="1" fill="#0000ff"/>
<rect x="675" y="124" width="3" height="1" fill="#a0a0a0"/>
<rect x="675" y="152" width="3" height="1" fill="#ff00ff"/>
<rect x="686" y="59" width="3" height="1" fill="#ff00ff"/>
<rect x="692" y="59" width="3" height="1" fill="#ff00ff"/>
<rect x="698" y="59" width="3" height="1" fill="#ff00ff"/>
<rect x="704" y="59" width="3" height="1" fill="#ff00ff"/>
<rect x="710" y="59" width="1" height="1" fill="#ff00ff"/>
<rect x="686" y="84" width="3" height="1" fill="#a0a0a0"/>
<rect x="692" y="84" width="3" height="1" fill="#a0a0a0"/>
<rect x="698" y="84" width="3" height="1" fill="#a0a0a0"/>
<rect x="704" y="84" width="3" height="1" fill="#a0a0a0"/>
<rect x="710" y="84" width="1" height="1" fill="#a0a0a0"/>
<rect x="686" y="104" width="3" height="1" fill="#0000ff"/>
<rect x="692" y="104" width="3" height="1" fill="#0000ff"/>
<rect x="698" y="104" width="3" height="1" fill="#0000ff"/>
<rect x="704" y="104" width="3" height="1" fill="#0000ff"/>
<rect x="710" y="104" width="1" height="1" fill="#0000ff"/>
<rect x="686" y="124" width="3" height="1" fill="#a0a0a0"/>
<rect x="692" y="124" width="3" height="1" fill="#a0a0a0"/>
<rect x="698" y="124" width="3" height="1" fill="#a0a0a0"/>
<rect x="704" y="124" width="3" height="1" fill="#a0a0a0"/>
<rect x="710" y="124" width="1" height="1" fill="#a0a0a0"/>
<rect x="686" y="152" width="3" height="1" fill="#ff00ff"/>
<rect x="692" y="152" width="3" height="1" fill="#ff00ff"/>
<rect x="698" y="152" width="3" height="1" fill="#ff00ff"/>
<rect x="704" y="152" width="3" height="1" fill="#ff00ff"/>
<rect x="710" y="152" width="1" height="1" fill="#ff00ff"/>
<rect x="4" y="200" width="13" height="1" fill="#009000"/>
<rect x="4" y="199" width="6" height="3" fill="#009000"/>
<rect x="11" y="199" width="3" height="3" fill="#009000"/>
<rect x="15" y="199" width="2" height="3" fill="#009000"/>
<rect x="22" y="225" width="98" height="1" fill="#009000"/>
<rect x="22" y="224" width="6" height="3" fill="#009000"/>
<rect x="29" y="224" width="3" height="3" fill="#009000"/>
<rect x="33" y="224" width="6" height="3" fill="#009000"/>
<rect x="40" y="224" width="3" height="3" fill="#009000"/>
<rect x="44" y="224" width="6" height="3" fill="#009000"/>
<rect x="51" y="224" width="3" height="3" fill="#009000"/>
<rect x="55" y="224" width="6" height="3" fill="#009000"/>
<rect x="62" y="224" width="3" height="3" fill="#009000"/>
<rect x="66" y="224" width="6" height="3" fill="#009000"/>
<rect x="73" y="224" width="3" height="3" fill="#009000"/>
<rect x="77" y="224" width="6" height="3" fill="#009000"/>
<rect x="84" y="224" width="3" height="3" fill="#009000"/>
<rect x="88" y="224" width="6" height="3" fill="#009000"/>
<rect x="95" y="224" width="3" height="3" fill="#009000"/>
<rect x="99" y="224" width="6" height="3" fill="#009000"/>
<rect x="106" y="224" width="3" height="3" fill="#009000"/>
<rect x="110" y="224" width="6" height="3" fill="#009000"/>
<rect x="117" y="224" width="3" height="3" fill="#009000"/>
<rect x="124" y="266" width="40" height="1" fill="#009000"/>
<rect x="124" y="265" width="3" height="3" fill="#009000"/>
<rect x="128" y="265" width="3" height="3" fill="#009000"/>
<rect x="132" y="265" width="6" height="3" fill="#009000"/>
<rect x="139" y="265" width="3" height="3" fill="#009000"/>
<rect x="143" y="265" width="6" height="3" fill="#009000"/>
<rect x="150" y="265" width="3" height="3" fill="#009000"/>
<rect x="154" y="265" width="6" height="3" fill="#009000"/>
<rect x="161" y="265" width="3" height="3" fill="#009000"/>
<rect x="168" y="293" width="97" height="1" fill="#009000"/>
<rect x="168" y="292" width="3" height="3" fill="#009000"/>
<rect x="172" y="292" width="3" height="3" fill="#009000"/>
<rect x="176" y="292" width="6" height="3" fill="#009000"/>
<rect x="183" y="292" width="3" height="3" fill="#009000"/>
<rect x="187" y="292" width="6" height="3" fill="#009000"/>
<rect x="194" y="292" width="3" height="3" fill="#009000"/>
<rect x="198" y="292" width="6" height="3" fill="#009000"/>
<rect x="205" y="292" width="3" height="3" fill="#009000"/>
<rect x="209" y="292" width="6" height="3" fill="#009000"/>
<rect x="216" y="292" width="3" height="3" fill="#009000"/>
<rect x="220" y="292" width="6" height="3" fill="#009000"/>
<rect x="227" y="292" width="3" height="3" fill="#009000"/>
<rect x="231" y="292" width="6" height="3" fill="#009000"/>
<rect x="238" y="292" width="3" height="3" fill="#009000"/>
<rect x="242" y="292" width="6" height="3" fill="#009000"/>
<rect x="249" y="292" width="3" height="3" fill="#009000"/>
<rect x="253" y="292" width="6" height="3" fill="#009000"/>
<rect x="260" y="292" width="3" height="3" fill="#009000"/>
<rect x="264" y="292" width="1" height="3" fill="#009000"/>
<rect x="271" y="197" width="112" height="1" fill="#009000"/>
<rect x="271" y="196" width="6" height="3" fill="#009000"/>
<rect x="278" y="196" width="3" height="3" fill="#009000"/>
<rect x="282" y="196" width="6" height="3" fill="#009000"/>
<rect x="289" y="196" width="3" height="3" fill="#009000"/>
<rect x="293" y="196" width="6" height="3" fill="#009000"/>
<rect x="300" y="196" width="3" height="3" fill="#009000"/>
<rect x="304" y="196" width="6" height="3" fill="#009000"/>
<rect x="311" y="196" width="3" height="3" fill="#009000"/>
<rect x="315" y="196" width="6" height="3" fill="#009000"/>
<rect x="322" y="196" width="3" height="3" fill="#009000"/>
<rect x="326" y="196" width="6" height="3" fill="#009000"/>
<rect x="333" y="196" width="3" height="3" fill="#009000"/>
<rect x="337" y="196" width="6" height="3" fill="#009000"/>
<rect x="344" y="196" width="3" height="3" fill="#009000"/>
<rect x="348" y="196" width="6" height="3" fill="#009000"/>
<rect x="355" y="196" width="3" height="3" fill="#009000"/>
<rect x="359" y="196" width="6" height="3" fill="#009000"/>
<rect x="366" y="196" width="3" height="3" fill="#009000"/>
<rect x="370" y="196" width="6" height="3" fill="#009000"/>
<rect x="377" y="196" width="3" height="3" fill="#009000"/>
<rect x="381" y="196" width="2" height="3" fill="#009000"/>
<rect x="392" y="208" width="171" height="1" fill="#009000"/>
<rect x="392" y="207" width="2" height="3" fill="#009000"/>
<rect x="395" y="207" width="3" height="3" fill="#009000"/>
<rect x="399" y="207" width="6" height="3" fill="#009000"/>
<rect x="406" y="207" width="3" height="3" fill="#009000"/>
<rect x="410" y="207" width="6" height="3" fill="#009000"/>
<rect x="417" y="207" width="3" height="3" fill="#009000"/>
<rect x="421" y="207" width="6" height="3" fill="#009000"/>
<rect x="428" y="207" width="3" height="3" fill="#009000"/>
<rect x="432" y="207" width="6" height="3" fill="#009000"/>
<rect x="439" y="207" width="3" height="3" fill="#009000"/>
<rect x="443" y="207" width="6" height="3" fill="#009000"/>
<rect x="450" y="207" width="3" height="3" fill="#009000"/>
<rect x="454" y="207" width="6" height="3" fill="#009000"/>
<rect x="461" y="207" width="3" height="3" fill="#009000"/>
<rect x="465" y="207" width="6" height="3" fill="#009000"/>
<rect x="472" y="207" width="3" height="3" fill="#009000"/>
<rect x="476" y="207" width="6" height="3" fill="#009000"/>
<rect x="483" y="207" width="3" height="3" fill="#009000"/>
<rect x="487" y="207" width="6" height="3" fill="#009000"/>
<rect x="494" y="207" width="3" height="3" fill="#009000"/>
<rect x="498" y="207" width="6" height="3" fill="#009000"/>
<rect x="505" y="207" width="3" height="3" fill="#009000"/>
<rect x="509" y="207" width="6" height="3" fill="#009000"/>
<rect x="516" y="207" width="3" height="3" fill="#009000"/>
<rect x="520" y="207" width="6" height="3" fill="#009000"/>
<rect x="527" y="207" width="3" height="3" fill="#009000"/>
<rect x="531" y="207" width="6" height="3" fill="#009000"/>
<rect x="538" y="207" width="3" height="3" fill="#009000"/>
<rect x="542" y="207" width="6" height="3" fill="#009000"/>
<rect x="549" y="207" width="3" height="3" fill="#009000"/>
<rect x="553" y="207" width="6" height="3" fill="#009000"/>
<rect x="560" y="207" width="3" height="3" fill="#009000"/>
<rect x="567" y="249" width="47" height="1" fill="#009000"/>
<rect x="567" y="248" width="3" height="3" fill="#009000"/>
<rect x="571" y="248" width="3" height="3" fill="#009000"/>
<rect x="575" y="248" width="6" height="3" fill="#009000"/>
<rect x="582" y="248" width="3" height="3" fill="#009000"/>
<rect x="586" y="248" width="6" height="3" fill="#009000"/>
<rect x="593" y="248" width="3" height="3" fill="#009000"/>
<rect x="597" y="248" width="6" height="3" fill="#009000"/>
<rect x="604" y="248" width="3" height="3" fill="#009000"/>
<rect x="608" y="248" width="6" height="3" fill="#009000"/>
<rect x="619" y="220" width="39" height="1" fill="#009000"/>
<rect x="619" y="219" width="6" height="3" fill="#009000"/>
<rect x="626" y="219" width="3" height="3" fill="#009000"/>
<rect x="630" y="219" width="6" height="3" fill="#009000"/>
<rect x="637" y="219" width="3" height="3" fill="#009000"/>
<rect x="641" y="219" width="6" height="3" fill="#009000"/>
<rect x="648" y="219" width="3" height="3" fill="#009000"/>
<rect x="652" y="219" width="6" height="3" fill="#009000"/>
<rect x="663" y="189" width="17" height="1" fill="#009000"/>
<rect x="663" y="188" width="6" height="3" fill="#009000"/>
<rect x="670" y="188" width="3" height="3" fill="#009000"/>
<rect x="674" y="188" width="6" height="3" fill="#009000"/>
<rect x="685" y="189" width="25" height="1" fill="#009000"/>
<rect x="685" y="188" width="6" height="3" fill="#009000"/>
<rect x="692" y="188" width="3" height="3" fill="#009000"/>
<rect x="696" y="188" width="6" height="3" fill="#009000"/>
<rect x="703" y="188" width="3" height="3" fill="#009000"/>
<rect x="707" y="188" width="3" height="3" fill="#009000"/>
<rect x="4" y="150" width="6" height="1" fill="#ff0000"/>
<rect x="4" y="149" width="6" height="3" fill="#ff0000"/>
<rect x="14" y="175" width="3" height="1" fill="#ff0000"/>
<rect x="14" y="174" width="3" height="3" fill="#ff0000"/>
<rect x="22" y="180" width="6" height="1" fill="#ff0000"/>
<rect x="22" y="179" width="6" height="3" fill="#ff0000"/>
<rect x="33" y="187" width="21" height="1" fill="#ff0000"/>
<rect x="33" y="186" width="6" height="3" fill="#ff0000"/>
<rect x="40" y="186" width="3" height="3" fill="#ff0000"/>
<rect x="44" y="186" width="6" height="3" fill="#ff0000"/>
<rect x="51" y="186" width="3" height="3" fill="#ff0000"/>
<rect x="58" y="212" width="18" height="1" fill="#ff0000"/>
<rect x="58" y="211" width="3" height="3" fill="#ff0000"/>
<rect x="62" y="211" width="3" height="3" fill="#ff0000"/>
<rect x="66" y="211" width="6" height="3" fill="#ff0000"/>
<rect x="73" y="211" width="3" height="3" fill="#ff0000"/>
<rect x="80" y="212" width="18" height="1" fill="#ff0000"/>
<rect x="80" y="211" width="3" height="3" fill="#ff0000"/>
<rect x="84" y="211" width="3" height="3" fill="#ff0000"/>
<rect x="88" y="211" width="6" height="3" fill="#ff0000"/>
<rect x="95" y="211" width="3" height="3" fill="#ff0000"/>
<rect x="102" y="217" width="88" height="1" fill="#ff0000"/>
<rect x="102" y="216" width="3" height="3" fill="#ff0000"/>
<rect x="106" y="216" width="3" height="3" fill="#ff0000"/>
<rect x="110" y="216" width="6" height="3" fill="#ff0000"/>
<rect x="117" y="216" width="3" height="3" fill="#ff0000"/>
<rect x="121" y="216" width="6" height="3" fill="#ff0000"/>
<rect x="128" y="216" width="3" height="3" fill="#ff0000"/>
<rect x="132" y="216" width="6" height="3" fill="#ff0000"/>
<rect x="139" y="216" width="3" height="3" fill="#ff0000"/>
<rect x="143" y="216" width="6" height="3" fill="#ff0000"/>
<rect x="150" y="216" width="3" height="3" fill="#ff0000"/>
<rect x="154" y="216" width="6" height="3" fill="#ff0000"/>
<rect x="161" y="216" width="3" height="3" fill="#ff0000"/>
<rect x="165" y="216" width="6" height="3" fill="#ff0000"/>
<rect x="172" y="216" width="3" height="3" fill="#ff0000"/>
<rect x="176" y="216" width="6" height="3" fill="#ff0000"/>
<rect x="183" y="216" width="3" height="3" fill="#ff0000"/>
<rect x="187" y="216" width="3" height="3" fill="#ff0000"/>
<rect x="194" y="252" width="3" height="1" fill="#ff0000"/>
<rect x="194" y="251" width="3" height="3" fill="#ff0000"/>
<rect x="201" y="257" width="14" height="1" fill="#ff0000"/>
<rect x="201" y="256" width="3" height="3" fill="#ff0000"/>
<rect x="205" y="256" width="3" height="3" fill="#ff0000"/>
<rect x="209" y="256" width="6" height="3" fill="#ff0000"/>
<rect x="220" y="257" width="39" height="1" fill="#ff0000"/>
<rect x="220" y="256" width="6" height="3" fill="#ff0000"/>
<rect x="227" y="256" width="3" height="3" fill="#ff0000"/>
<rect x="231" y="256" width="6" height="3" fill="#ff0000"/>
<rect x="238" y="256" width="3" height="3" fill="#ff0000"/>
<rect x="242" y="256" width="6" height="3" fill="#ff0000"/>
<rect x="249" y="256" width="3" height="3" fill="#ff0000"/>
<rect x="253" y="256" width="6" height="3" fill="#ff0000"/>
<rect x="263" y="164" width="22" height="1" fill="#ff0000"/>
<rect x="264" y="163" width="6" height="3" fill="#ff0000"/>
<rect x="271" y="163" width="3" height="3" fill="#ff0000"/>
<rect x="275" y="163" width="6" height="3" fill="#ff0000"/>
<rect x="282" y="163" width="3" height="3" fill="#ff0000"/>
<rect x="293" y="127" width="6" height="1" fill="#ff0000"/>
<rect x="293" y="126" width="6" height="3" fill="#ff0000"/>
<rect x="304" y="113" width="49" height="1" fill="#ff0000"/>
<rect x="304" y="112" width="6" height="3" fill="#ff0000"/>
<rect x="311" y="112" width="3" height="3" fill="#ff0000"/>
<rect x="315" y="112" width="6" height="3" fill="#ff0000"/>
<rect x="322" y="112" width="3" height="3" fill="#ff0000"/>
<rect x="326" y="112" width="6" height="3" fill="#ff0000"/>
<rect x="333" y="112" width="3" height="3" fill="#ff0000"/>
<rect x="337" y="112" width="6" height="3" fill="#ff0000"/>
<rect x="344" y="112" width="3" height="3" fill="#ff0000"/>
<rect x="348" y="112" width="5" height="3" fill="#ff0000"/>
<rect x="359" y="152" width="50" height="1" fill="#ff0000"/>
<rect x="359" y="151" width="6" height="3" fill="#ff0000"/>
<rect x="366" y="151" width="3" height="3" fill="#ff0000"/>
<rect x="370" y="151" width="6" height="3" fill="#ff0000"/>
<rect x="377" y="151" width="3" height="3" fill="#ff0000"/>
<rect x="381" y="151" width="6" height="3" fill="#ff0000"/>
<rect x="388" y="151" width="3" height="3" fill="#ff0000"/>
<rect x="392" y="151" width="6" height="3" fill="#ff0000"/>
<rect x="399" y="151" width="3" height="3" fill="#ff0000"/>
<rect x="403" y="151" width="6" height="3" fill="#ff0000"/>
<rect x="414" y="135" width="10" height="1" fill="#ff0000"/>
<rect x="414" y="134" width="2" height="3" fill="#ff0000"/>
<rect x="417" y="134" width="3" height="3" fill="#ff0000"/>
<rect x="421" y="134" width="3" height="3" fill="#ff0000"/>
<rect x="428" y="132" width="157" height="1" fill="#ff0000"/>
<rect x="428" y="131" width="3" height="3" fill="#ff0000"/>
<rect x="432" y="131" width="6" height="3" fill="#ff0000"/>
<rect x="439" y="131" width="3" height="3" fill="#ff0000"/>
<rect x="443" y="131" width="6" height="3" fill="#ff0000"/>
<rect x="450" y="131" width="3" height="3" fill="#ff0000"/>
<rect x="454" y="131" width="6" height="3" fill="#ff0000"/>
<rect x="461" y="131" width="3" height="3" fill="#ff0000"/>
<rect x="465" y="131" width="6" height="3" fill="#ff0000"/>
<rect x="472" y="131" width="3" height="3" fill="#ff0000"/>
<rect x="476" y="131" width="6" height="3" fill="#ff0000"/>
<rect x="483" y="131" width="3" height="3" fill="#ff0000"/>
<rect x="487" y="131" width="6" height="3" fill="#ff0000"/>
<rect x="494" y="131" width="3" height="3" fill="#ff0000"/>
<rect x="498" y="131" width="6" height="3" fill="#ff0000"/>
<rect x="505" y="131" width="3" height="3" fill="#ff0000"/>
<rect x="509" y="131" width="6" height="3" fill="#ff0000"/>
<rect x="516" y="131" width="3" height="3" fill="#ff0000"/>
<rect x="520" y="131" width="6" height="3" fill="#ff0000"/>
<rect x="527" y="131" width="3" height="3" fill="#ff0000"/>
<rect x="531" y="131" width="6" height="3" fill="#ff0000"/>
<rect x="538" y="131" width="3" height="3" fill="#ff0000"/>
<rect x="542" y="131" width="6" height="3" fill="#ff0000"/>
<rect x="549" y="131" width="3" height="3" fill="#ff0000"/>
<rect x="553" y="131" width="6" height="3" fill="#ff0000"/>
<rect x="560" y="131" width="3" height="3" fill="#ff0000"/>
<rect x="564" y="131" width="6" height="3" fill="#ff0000"/>
<rect x="571" y="131" width="3" height="3" fill="#ff0000"/>
<rect x="575" y="131" width="6" height="3" fill="#ff0000"/>
<rect x="582" y="131" width="3" height="3" fill="#ff0000"/>
<rect x="589" y="169" width="47" height="1" fill="#ff0000"/>
<rect x="589" y="168" width="3" height="3" fill="#ff0000"/>
<rect x="593" y="168" width="3" height="3" fill="#ff0000"/>
<rect x="597" y="168" width="6" height="3" fill="#ff0000"/>
<rect x="604" y="168" width="3" height="3" fill="#ff0000"/>
<rect x="608" y="168" width="6" height="3" fill="#ff0000"/>
<rect x="615" y="168" width="3" height="3" fill="#ff0000"/>
<rect x="619" y="168" width="6" height="3" fill="#ff0000"/>
<rect x="626" y="168" width="3" height="3" fill="#ff0000"/>
<rect x="630" y="168" width="6" height="3" fill="#ff0000"/>
<rect x="641" y="130" width="25" height="1" fill="#ff0000"/>
<rect x="641" y="129" width="6" height="3" fill="#ff0000"/>
<rect x="648" y="129" width="3" height="3" fill="#ff0000"/>
<rect x="652" y="129" width="6" height="3" fill="#ff0000"/>
<rect x="659" y="129" width="3" height="3" fill="#ff0000"/>
<rect x="663" y="129" width="3" height="3" fill="#ff0000"/>
<rect x="674" y="19" width="39" height="1" fill="#ff0000"/>
<rect x="674" y="18" width="6" height="3" fill="#ff0000"/>
<rect x="681" y="18" width="3" height="3" fill="#ff0000"/>
<rect x="685" y="18" width="6" height="3" fill="#ff0000"/>
<rect x="692" y="18" width="3" height="3" fill="#ff0000"/>
<rect x="696" y="18" width="6" height="3" fill="#ff0000"/>
<rect x="703" y="18" width="3" height="3" fill="#ff0000"/>
<rect x="707" y="18" width="6" height="3" fill="#ff0000"/>
<rect x="5" y="202" width="1" height="6" fill="#000"/>
<rect x="4" y="203" width="3" height="1" fill="#000"/>
<rect x="8" y="202" width="1" height="12" fill="#000"/>
<rect x="7" y="206" width="3" height="1" fill="#000"/>
<rect x="12" y="175" width="1" height="45" fill="#000"/>
<rect x="11" y="175" width="3" height="39" fill="#000"/>
<rect x="15" y="214" width="1" height="11" fill="#000"/>
<rect x="14" y="214" width="3" height="6" fill="#000"/>
<rect x="19" y="181" width="1" height="45" fill="#000"/>
<rect x="18.5" y="195.5" width="2" height="30" fill="#fff" stroke="#000" stroke-width="1"/>
<rect x="23" y="197" width="1" height="15" fill="#000"/>
<rect x="22" y="203" width="3" height="9" fill="#000"/>
<rect x="26" y="204" width="1" height="13" fill="#000"/>
<rect x="25" y="212" width="3" height="3" fill="#000"/>
<rect x="30" y="188" width="1" height="30" fill="#000"/>
<rect x="29.5" y="214.5" width="2" height="3" fill="#fff" stroke="#000" stroke-width="1"/>
<rect x="34" y="199" width="1" height="26" fill="#000"/>
<rect x="33" y="218" width="3" height="6" fill="#000"/>
<rect x="37" y="218" width="1" height="4" fill="#000"/>
<rect x="36" y="220" width="3" height="1" fill="#000"/>
<rect x="41" y="217" width="1" height="6" fill="#000"/>
<rect x="40" y="218" width="3" height="4" fill="#000"/>
<rect x="45" y="220" width="1" height="6" fill="#000"/>
<rect x="44" y="220" width="3" height="6" fill="#000"/>
<rect x="48" y="221" width="1" height="3" fill="#000"/>
<rect x="47" y="221" width="3" height="3" fill="#000"/>
<rect x="52" y="223" width="1" height="3" fill="#000"/>
<rect x="51" y="223" width="3" height="2" fill="#000"/>
<rect x="56" y="213" width="1" height="12" fill="#000"/>
<rect x="55" y="221" width="3" height="3" fill="#000"/>
<rect x="59" y="223" width="1" height="12" fill="#000"/>
<rect x="58" y="223" width="3" height="12" fill="#000"/>
<rect x="63" y="228" width="1" height="6" fill="#000"/>
<rect x="62.5" y="228.5" width="2" height="2" fill="#fff" stroke="#000" stroke-width="1"/>
<rect x="67" y="232" width="1" height="12" fill="#000"/>
<rect x="66" y="232" width="3" height="12" fill="#000"/>
<rect x="70" y="242" width="1" height="2" fill="#000"/>
<rect x="69" y="243" width="3" height="1" fill="#000"/>
<rect x="74" y="236" width="1" height="9" fill="#000"/>
<rect x="73.5" y="240.5" width="2" height="3" fill="#fff" stroke="#000" stroke-width="1"/>
<rect x="78" y="213" width="1" height="25" fill="#000"/>
<rect x="77.5" y="231.5" width="2" height="6" fill="#fff" stroke="#000" stroke-width="1"/>
<rect x="81" y="227" width="1" height="16" fill="#000"/>
<rect x="80" y="229" width="3" height="1" fill="#000"/>
<rect x="85" y="234" width="1" height="10" fill="#000"/>
<rect x="84" y="234" width="3" height="10" fill="#000"/>
<rect x="89" y="238" width="1" height="4" fill="#000"/>
<rect x="88" y="238" width="3" height="1" fill="#000"/>
<rect x="92" y="232" width="1" height="6" fill="#000"/>
<rect x="91" y="234" width="3" height="4" fill="#000"/>
<rect x="96" y="222" width="1" height="13" fill="#000"/>
<rect x="95.5" y="230.5" width="2" height="4" fill="#fff" stroke="#000" stroke-width="1"/>
<rect x="100" y="218" width="1" height="24" fill="#000"/>
<rect x="99" y="232" width="3" height="6" fill="#000"/>
<rect x="103" y="236" width="1" height="4" fill="#000"/>
<rect x="102" y="238" width="3" height="2" fill="#000"/>
<rect x="107" y="235" width="1" height="9" fill="#000"/>
<rect x="106" y="235" width="3" height="9" fill="#000"/>
<rect x="111" y="242" width="1" height="2" fill="#000"/>
<rect x="110" y="242" width="3" height="2" fill="#000"/>
<rect x="114" y="241" width="1" height="5" fill="#000"/>
<rect x="113.5" y="243.5" width="2" height="2" fill="#fff" stroke="#000" stroke-width="1"/>
<rect x="118" y="240" width="1" height="15" fill="#000"/>
<rect x="117" y="240" width="3" height="10" fill="#000"/>
<rect x="122" y="251" width="1" height="15" fill="#000"/>
<rect x="121" y="251" width="3" height="7" fill="#000"/>
<rect x="125" y="244" width="1" height="16" fill="#000"/>
<rect x="124.5" y="249.5" width="2" height="10" fill="#fff" stroke="#000" stroke-width="1"/>
<rect x="129" y="244" width="1" height="9" fill="#000"/>
<rect x="128" y="251" width="3" height="2" fill="#000"/>
<rect x="133" y="251" width="1" height="5" fill="#000"/>
<rect x="132" y="251" width="3" height="4" fill="#000"/>
<rect x="136" y="249" width="1" height="14" fill="#000"/>
<rect x="135" y="251" width="3" height="9" fill="#000"/>
<rect x="140" y="251" width="1" height="14" fill="#000"/>
<rect x="139" y="251" width="3" height="12" fill="#000"/>
<rect x="144" y="252" width="1" height="14" fill="#000"/>
<rect x="143.5" y="262.5" width="2" height="3" fill="#fff" stroke="#000" stroke-width="1"/>
<rect x="147" y="253" width="1" height="9" fill="#000"/>
<rect x="146" y="257" width="3" height="5" fill="#000"/>
<rect x="151" y="253" width="1" height="10" fill="#000"/>
<rect x="150.5" y="260.5" width="2" height="2" fill="#fff" stroke="#000" stroke-width="1"/>
<rect x="155" y="260" width="1" height="11" fill="#000"/>
<rect x="154" y="260" width="3" height="11" fill="#000"/>
<rect x="158" y="270" width="1" height="16" fill="#000"/>
<rect x="157" y="274" width="3" height="6" fill="#000"/>
<rect x="162" y="275" width="1" height="9" fill="#000"/>
<rect x="161" y="277" width="3" height="7" fill="#000"/>
<rect x="166" y="267" width="1" height="26" fill="#000"/>
<rect x="165.5" y="283.5" width="2" height="2" fill="#fff" stroke="#000" stroke-width="1"/>
<rect x="169" y="283" width="1" height="5" fill="#000"/>
<rect x="168" y="283" width="3" height="3" fill="#000"/>
<rect x="173" y="283" width="1" height="5" fill="#000"/>
<rect x="172" y="283" width="3" height="4" fill="#000"/>
<rect x="177" y="282" width="1" height="6" fill="#000"/>
<rect x="176" y="282" width="3" height="5" fill="#000"/>
<rect x="180" y="267" width="1" height="19" fill="#000"/>
<rect x="179.5" y="280.5" width="2" height="2" fill="#fff" stroke="#000" stroke-width="1"/>
<rect x="184" y="269" width="1" height="15" fill="#000"/>
<rect x="183.5" y="280.5" width="2" height="3" fill="#fff" stroke="#000" stroke-width="1"/>
<rect x="188" y="275" width="1" height="8" fill="#000"/>
<rect x="187" y="280" width="3" height="1" fill="#000"/>
<rect x="191" y="253" width="1" height="27" fill="#000"/>
<rect x="190" y="276" width="3" height="4" fill="#000"/>
<rect x="195" y="278" width="1" height="5" fill="#000"/>
<rect x="194.5" y="279.5" width="2" height="3" fill="#fff" stroke="#000" stroke-width="1"/>
<rect x="199" y="258" width="1" height="24" fill="#000"/>
<rect x="198.5" y="274.5" width="2" height="3" fill="#fff" stroke="#000" stroke-width="1"/>
<rect x="202" y="267" width="1" height="11" fill="#000"/>
<rect x="201" y="276" width="3" height="2" fill="#000"/>
<rect x="206" y="272" width="1" height="8" fill="#000"/>
<rect x="205.5" y="272.5" width="2" height="7" fill="#fff" stroke="#000" stroke-width="1"/>
<rect x="210" y="272" width="1" height="7" fill="#000"/>
<rect x="209" y="278" width="3" height="1" fill="#000"/>
<rect x="213" y="267" width="1" height="9" fill="#000"/>
<rect x="212.5" y="271.5" width="2" height="4" fill="#fff" stroke="#000" stroke-width="1"/>
<rect x="217" y="268" width="1" height="6" fill="#000"/>
<rect x="216" y="268" width="3" height="6" fill="#000"/>
<rect x="221" y="272" width="1" height="2" fill="#000"/>
<rect x="220.5" y="272.5" width="2" height="2" fill="#fff" stroke="#000" stroke-width="1"/>
<rect x="224" y="262" width="1" height="14" fill="#000"/>
<rect x="223.5" y="262.5" width="2" height="11" fill="#fff" stroke="#000" stroke-width="1"/>
<rect x="228" y="255" width="1" height="7" fill="#000"/>
<rect x="227.5" y="257.5" width="2" height="2" fill="#fff" stroke="#000" stroke-width="1"/>
<rect x="232" y="253" width="1" height="9" fill="#000"/>
<rect x="231" y="254" width="3" height="6" fill="#000"/>
<rect x="235" y="252" width="1" height="5" fill="#000"/>
<rect x="234" y="254" width="3" height="3" fill="#000"/>
<rect x="239" y="251" width="1" height="2" fill="#000"/>
<rect x="238" y="251" width="3" height="2" fill="#000"/>
<rect x="243" y="175" width="1" height="77" fill="#000"/>
<rect x="242.5" y="191.5" width="2" height="58" fill="#fff" stroke="#000" stroke-width="1"/>
<rect x="246" y="165" width="1" height="19" fill="#000"/>
<rect x="245.5" y="170.5" width="2" height="11" fill="#fff" stroke="#000" stroke-width="1"/>
<rect x="250" y="172" width="1" height="17" fill="#000"/>
<rect x="249" y="172" width="3" height="12" fill="#000"/>
<rect x="253" y="176" width="1" height="10" fill="#000"/>
<rect x="252" y="183" width="3" height="2" fill="#000"/>
<rect x="257" y="167" width="1" height="14" fill="#000"/>
<rect x="256" y="169" width="3" height="1" fill="#000"/>
<rect x="261" y="165" width="1" height="16" fill="#000"/>
<rect x="260" y="175" width="3" height="4" fill="#000"/>
<rect x="264" y="175" width="1" height="20" fill="#000"/>
<rect x="263" y="178" width="3" height="9" fill="#000"/>
<rect x="268" y="187" width="1" height="10" fill="#000"/>
<rect x="267" y="190" width="3" height="1" fill="#000"/>
<rect x="272" y="172" width="1" height="18" fill="#000"/>
<rect x="271.5" y="180.5" width="2" height="9" fill="#fff" stroke="#000" stroke-width="1"/>
<rect x="275" y="159" width="1" height="20" fill="#000"/>
<rect x="274.5" y="169.5" width="2" height="9" fill="#fff" stroke="#000" stroke-width="1"/>
<rect x="279" y="171" width="1" height="9" fill="#000"/>
<rect x="278" y="173" width="3" height="2" fill="#000"/>
<rect x="283" y="171" width="1" height="9" fill="#000"/>
<rect x="282" y="174" width="3" height="4" fill="#000"/>
<rect x="286" y="150" width="1" height="19" fill="#000"/>
<rect x="285.5" y="152.5" width="2" height="16" fill="#fff" stroke="#000" stroke-width="1"/>
<rect x="290" y="128" width="1" height="39" fill="#000"/>
<rect x="289" y="149" width="3" height="5" fill="#000"/>
<rect x="294" y="153" width="1" height="8" fill="#000"/>
<rect x="293.5" y="154.5" width="2" height="2" fill="#fff" stroke="#000" stroke-width="1"/>
<rect x="297" y="122" width="1" height="45" fill="#000"/>
<rect x="296.5" y="129.5" width="2" height="28" fill="#fff" stroke="#000" stroke-width="1"/>
<rect x="301" y="114" width="1" height="36" fill="#000"/>
<rect x="300.5" y="119.5" width="2" height="7" fill="#fff" stroke="#000" stroke-width="1"/>
<rect x="305" y="119" width="1" height="16" fill="#000"/>
<rect x="304" y="119" width="3" height="8" fill="#000"/>
<rect x="308" y="122" width="1" height="18" fill="#000"/>
<rect x="307.5" y="124.5" width="2" height="11" fill="#fff" stroke="#000" stroke-width="1"/>
<rect x="312" y="122" width="1" height="10" fill="#000"/>
<rect x="311" y="124" width="3" height="4" fill="#000"/>
<rect x="316" y="120" width="1" height="9" fill="#000"/>
<rect x="315" y="126" width="3" height="2" fill="#000"/>
<rect x="319" y="127" width="1" height="17" fill="#000"/>
<rect x="318" y="127" width="3" height="15" fill="#000"/>
<rect x="323" y="133" width="1" height="11" fill="#000"/>
<rect x="322.5" y="140.5" width="2" height="3" fill="#fff" stroke="#000" stroke-width="1"/>
<rect x="327" y="136" width="1" height="19" fill="#000"/>
<rect x="326" y="143" width="3" height="2" fill="#000"/>
<rect x="330" y="137" width="1" height="13" fill="#000"/>
<rect x="329" y="141" width="3" height="7" fill="#000"/>
<rect x="334" y="141" width="1" height="17" fill="#000"/>
<rect x="333" y="147" width="3" height="9" fill="#000"/>
<rect x="338" y="155" width="1" height="14" fill="#000"/>
<rect x="337" y="155" width="3" height="6" fill="#000"/>
<rect x="341" y="164" width="1" height="13" fill="#000"/>
<rect x="340.5" y="166.5" width="2" height="3" fill="#fff" stroke="#000" stroke-width="1"/>
<rect x="345" y="166" width="1" height="14" fill="#000"/>
<rect x="344" y="167" width="3" height="1" fill="#000"/>
<rect x="349" y="156" width="1" height="33" fill="#000"/>
<rect x="348" y="175" width="3" height="3" fill="#000"/>
<rect x="352" y="157" width="1" height="32" fill="#000"/>
<rect x="351.5" y="157.5" width="2" height="17" fill="#fff" stroke="#000" stroke-width="1"/>
<rect x="356" y="152" width="1" height="28" fill="#000"/>
<rect x="355" y="152" width="3" height="27" fill="#000"/>
<rect x="360" y="162" width="1" height="15" fill="#000"/>
<rect x="359" y="164" width="3" height="13" fill="#000"/>
<rect x="363" y="162" width="1" height="21" fill="#000"/>
<rect x="362" y="178" width="3" height="4" fill="#000"/>
<rect x="367" y="171" width="1" height="23" fill="#000"/>
<rect x="366.5" y="184.5" width="2" height="5" fill="#fff" stroke="#000" stroke-width="1"/>
<rect x="371" y="185" width="1" height="13" fill="#000"/>
<rect x="370" y="186" width="3" height="12" fill="#000"/>
<rect x="374" y="175" width="1" height="17" fill="#000"/>
<rect x="373.5" y="188.5" width="2" height="3" fill="#fff" stroke="#000" stroke-width="1"/>
<rect x="378" y="175" width="1" height="14" fill="#000"/>
<rect x="377.5" y="184.5" width="2" height="4" fill="#fff" stroke="#000" stroke-width="1"/>
<rect x="382" y="173" width="1" height="28" fill="#000"/>
<rect x="381" y="174" width="3" height="20" fill="#000"/>
<rect x="385" y="191" width="1" height="15" fill="#000"/>
<rect x="384" y="191" width="3" height="15" fill="#000"/>
<rect x="389" y="198" width="1" height="11" fill="#000"/>
<rect x="388.5" y="203.5" width="2" height="5" fill="#fff" stroke="#000" stroke-width="1"/>
<rect x="393" y="182" width="1" height="18" fill="#000"/>
<rect x="392.5" y="192.5" width="2" height="7" fill="#fff" stroke="#000" stroke-width="1"/>
<rect x="396" y="173" width="1" height="21" fill="#000"/>
<rect x="395" y="191" width="3" height="2" fill="#000"/>
<rect x="400" y="173" width="1" height="22" fill="#000"/>
<rect x="399" y="187" width="3" height="3" fill="#000"/>
<rect x="404" y="178" width="1" height="12" fill="#000"/>
<rect x="403.5" y="180.5" width="2" height="5" fill="#fff" stroke="#000" stroke-width="1"/>
<rect x="407" y="156" width="1" height="24" fill="#000"/>
<rect x="406.5" y="164.5" width="2" height="9" fill="#fff" stroke="#000" stroke-width="1"/>
<rect x="411" y="136" width="1" height="36" fill="#000"/>
<rect x="410" y="160" width="3" height="2" fill="#000"/>
<rect x="415" y="153" width="1" height="17" fill="#000"/>
<rect x="414" y="153" width="3" height="6" fill="#000"/>
<rect x="418" y="151" width="1" height="20" fill="#000"/>
<rect x="417" y="157" width="3" height="14" fill="#000"/>
<rect x="422" y="139" width="1" height="22" fill="#000"/>
<rect x="421" y="160" width="3" height="1" fill="#000"/>
<rect x="426" y="133" width="1" height="31" fill="#000"/>
<rect x="425.5" y="153.5" width="2" height="10" fill="#fff" stroke="#000" stroke-width="1"/>
<rect x="429" y="136" width="1" height="25" fill="#000"/>
<rect x="428" y="157" width="3" height="2" fill="#000"/>
<rect x="433" y="145" width="1" height="27" fill="#000"/>
<rect x="432.5" y="152.5" width="2" height="11" fill="#fff" stroke="#000" stroke-width="1"/>
<rect x="437" y="139" width="1" height="34" fill="#000"/>
<rect x="436" y="150" width="3" height="23" fill="#000"/>
<rect x="440" y="175" width="1" height="12" fill="#000"/>
<rect x="439" y="175" width="3" height="12" fill="#000"/>
<rect x="444" y="181" width="1" height="8" fill="#000"/>
<rect x="443.5" y="181.5" width="2" height="7" fill="#fff" stroke="#000" stroke-width="1"/>
<rect x="448" y="173" width="1" height="20" fill="#000"/>
<rect x="447" y="183" width="3" height="10" fill="#000"/>
<rect x="451" y="182" width="1" height="18" fill="#000"/>
<rect x="450" y="187" width="3" height="2" fill="#000"/>
<rect x="455" y="175" width="1" height="25" fill="#000"/>
<rect x="454" y="192" width="3" height="1" fill="#000"/>
<rect x="459" y="182" width="1" height="18" fill="#000"/>
<rect x="458.5" y="194.5" width="2" height="5" fill="#fff" stroke="#000" stroke-width="1"/>
<rect x="462" y="185" width="1" height="17" fill="#000"/>
<rect x="461" y="200" width="3" height="2" fill="#000"/>
<rect x="466" y="188" width="1" height="13" fill="#000"/>
<rect x="465.5" y="194.5" width="2" height="4" fill="#fff" stroke="#000" stroke-width="1"/>
<rect x="470" y="187" width="1" height="18" fill="#000"/>
<rect x="469.5" y="200.5" width="2" height="4" fill="#fff" stroke="#000" stroke-width="1"/>
<rect x="473" y="200" width="1" height="5" fill="#000"/>
<rect x="472" y="203" width="3" height="2" fill="#000"/>
<rect x="477" y="195" width="1" height="10" fill="#000"/>
<rect x="476" y="204" width="3" height="1" fill="#000"/>
<rect x="481" y="195" width="1" height="9" fill="#000"/>
<rect x="480" y="204" width="3" height="1" fill="#000"/>
<rect x="484" y="200" width="1" height="4" fill="#000"/>
<rect x="483" y="200" width="3" height="4" fill="#000"/>
<rect x="488" y="195" width="1" height="15" fill="#000"/>
<rect x="487" y="195" width="3" height="15" fill="#000"/>
<rect x="492" y="208" width="1" height="2" fill="#000"/>
<rect x="491" y="209" width="3" height="1" fill="#000"/>
<rect x="495" y="207" width="1" height="15" fill="#000"/>
<rect x="494" y="209" width="3" height="7" fill="#000"/>
<rect x="499" y="215" width="1" height="7" fill="#000"/>
<rect x="498" y="215" width="3" height="7" fill="#000"/>
<rect x="503" y="215" width="1" height="11" fill="#000"/>
<rect x="502" y="221" width="3" height="5" fill="#000"/>
<rect x="506" y="213" width="1" height="9" fill="#000"/>
<rect x="505" y="215" width="3" height="6" fill="#000"/>
<rect x="510" y="219" width="1" height="7" fill="#000"/>
<rect x="509.5" y="223.5" width="2" height="2" fill="#fff" stroke="#000" stroke-width="1"/>
<rect x="514" y="215" width="1" height="7" fill="#000"/>
<rect x="513" y="217" width="3" height="3" fill="#000"/>
<rect x="517" y="218" width="1" height="3" fill="#000"/>
<rect x="516" y="218" width="3" height="3" fill="#000"/>
<rect x="521" y="209" width="1" height="8" fill="#000"/>
<rect x="520.5" y="209.5" width="2" height="7" fill="#fff" stroke="#000" stroke-width="1"/>
<rect x="525" y="213" width="1" height="16" fill="#000"/>
<rect x="524" y="221" width="3" height="8" fill="#000"/>
<rect x="528" y="226" width="1" height="8" fill="#000"/>
<rect x="527" y="226" width="3" height="4" fill="#000"/>
<rect x="532" y="231" width="1" height="3" fill="#000"/>
<rect x="531" y="232" width="3" height="1" fill="#000"/>
<rect x="536" y="227" width="1" height="9" fill="#000"/>
<rect x="535" y="231" width="3" height="5" fill="#000"/>
<rect x="539" y="233" width="1" height="10" fill="#000"/>
<rect x="538" y="234" width="3" height="4" fill="#000"/>
<rect x="543" y="232" width="1" height="5" fill="#000"/>
<rect x="542" y="235" width="3" height="1" fill="#000"/>
<rect x="546" y="234" width="1" height="11" fill="#000"/>
<rect x="545" y="234" width="3" height="10" fill="#000"/>
<rect x="550" y="233" width="1" height="5" fill="#000"/>
<rect x="549" y="238" width="3" height="1" fill="#000"/>
<rect x="554" y="232" width="1" height="8" fill="#000"/>
<rect x="553" y="237" width="3" height="3" fill="#000"/>
<rect x="557" y="238" width="1" height="10" fill="#000"/>
<rect x="556" y="238" width="3" height="6" fill="#000"/>
<rect x="561" y="241" width="1" height="8" fill="#000"/>
<rect x="560" y="242" width="3" height="1" fill="#000"/>
<rect x="565" y="228" width="1" height="21" fill="#000"/>
<rect x="564.5" y="228.5" width="2" height="20" fill="#fff" stroke="#000" stroke-width="1"/>
<rect x="568" y="218" width="1" height="10" fill="#000"/>
<rect x="567.5" y="223.5" width="2" height="4" fill="#fff" stroke="#000" stroke-width="1"/>
<rect x="572" y="213" width="1" height="12" fill="#000"/>
<rect x="571.5" y="220.5" width="2" height="3" fill="#fff" stroke="#000" stroke-width="1"/>
<rect x="576" y="215" width="1" height="13" fill="#000"/>
<rect x="575.5" y="215.5" width="2" height="4" fill="#fff" stroke="#000" stroke-width="1"/>
<rect x="579" y="213" width="1" height="9" fill="#000"/>
<rect x="578" y="214" width="3" height="5" fill="#000"/>
<rect x="583" y="214" width="1" height="9" fill="#000"/>
<rect x="582" y="214" width="3" height="3" fill="#000"/>
<rect x="587" y="170" width="1" height="46" fill="#000"/>
<rect x="586.5" y="175.5" width="2" height="36" fill="#fff" stroke="#000" stroke-width="1"/>
<rect x="590" y="177" width="1" height="27" fill="#000"/>
<rect x="589" y="177" width="3" height="19" fill="#000"/>
<rect x="594" y="181" width="1" height="27" fill="#000"/>
<rect x="593" y="189" width="3" height="10" fill="#000"/>
<rect x="598" y="188" width="1" height="16" fill="#000"/>
<rect x="597" y="194" width="3" height="10" fill="#000"/>
<rect x="601" y="182" width="1" height="18" fill="#000"/>
<rect x="600.5" y="191.5" width="2" height="8" fill="#fff" stroke="#000" stroke-width="1"/>
<rect x="605" y="187" width="1" height="13" fill="#000"/>
<rect x="604" y="187" width="3" height="7" fill="#000"/>
<rect x="609" y="189" width="1" height="24" fill="#000"/>
<rect x="608" y="189" width="3" height="24" fill="#000"/>
<rect x="612" y="198" width="1" height="17" fill="#000"/>
<rect x="611" y="214" width="3" height="1" fill="#000"/>
<rect x="616" y="195" width="1" height="25" fill="#000"/>
<rect x="615.5" y="198.5" width="2" height="14" fill="#fff" stroke="#000" stroke-width="1"/>
<rect x="620" y="160" width="1" height="49" fill="#000"/>
<rect x="619.5" y="160.5" width="2" height="34" fill="#fff" stroke="#000" stroke-width="1"/>
<rect x="623" y="146" width="1" height="38" fill="#000"/>
<rect x="622.5" y="146.5" width="2" height="9" fill="#fff" stroke="#000" stroke-width="1"/>
<rect x="627" y="141" width="1" height="15" fill="#000"/>
<rect x="626.5" y="144.5" width="2" height="2" fill="#fff" stroke="#000" stroke-width="1"/>
<rect x="631" y="137" width="1" height="29" fill="#000"/>
<rect x="630" y="147" width="3" height="9" fill="#000"/>
<rect x="634" y="150" width="1" height="20" fill="#000"/>
<rect x="633.5" y="156.5" width="2" height="4" fill="#fff" stroke="#000" stroke-width="1"/>
<rect x="638" y="131" width="1" height="28" fill="#000"/>
<rect x="637" y="158" width="3" height="1" fill="#000"/>
<rect x="642" y="136" width="1" height="27" fill="#000"/>
<rect x="641" y="162" width="3" height="1" fill="#000"/>
<rect x="645" y="157" width="1" height="30" fill="#000"/>
<rect x="644" y="157" width="3" height="30" fill="#000"/>
<rect x="649" y="159" width="1" height="29" fill="#000"/>
<rect x="648" y="170" width="3" height="13" fill="#000"/>
<rect x="653" y="167" width="1" height="15" fill="#000"/>
<rect x="652.5" y="169.5" width="2" height="12" fill="#fff" stroke="#000" stroke-width="1"/>
<rect x="656" y="168" width="1" height="10" fill="#000"/>
<rect x="655.5" y="175.5" width="2" height="2" fill="#fff" stroke="#000" stroke-width="1"/>
<rect x="660" y="173" width="1" height="17" fill="#000"/>
<rect x="659.5" y="182.5" width="2" height="2" fill="#fff" stroke="#000" stroke-width="1"/>
<rect x="664" y="175" width="1" height="12" fill="#000"/>
<rect x="663.5" y="183.5" width="2" height="3" fill="#fff" stroke="#000" stroke-width="1"/>
<rect x="667" y="127" width="1" height="49" fill="#000"/>
<rect x="666.5" y="127.5" width="2" height="48" fill="#fff" stroke="#000" stroke-width="1"/>
<rect x="671" y="20" width="1" height="110" fill="#000"/>
<rect x="670.5" y="72.5" width="2" height="54" fill="#fff" stroke="#000" stroke-width="1"/>
<rect x="675" y="59" width="1" height="69" fill="#000"/>
<rect x="674" y="81" width="3" height="44" fill="#000"/>
<rect x="678" y="100" width="1" height="32" fill="#000"/>
<rect x="677" y="124" width="3" height="1" fill="#000"/>
<rect x="682" y="107" width="1" height="82" fill="#000"/>
<rect x="681" y="120" width="3" height="33" fill="#000"/>
<rect x="686" y="128" width="1" height="32" fill="#000"/>
<rect x="685" y="136" width="3" height="1" fill="#000"/>
<rect x="689" y="139" width="1" height="10" fill="#000"/>
<rect x="688" y="144" width="3" height="3" fill="#000"/>
<rect x="693" y="145" width="1" height="22" fill="#000"/>
<rect x="692" y="153" width="3" height="14" fill="#000"/>
<rect x="697" y="153" width="1" height="20" fill="#000"/>
<rect x="696" y="158" width="3" height="15" fill="#000"/>
<rect x="700" y="145" width="1" height="45" fill="#000"/>
<rect x="699" y="175" width="3" height="15" fill="#000"/>
<rect x="704" y="181" width="1" height="15" fill="#000"/>
<rect x="703" y="181" width="3" height="12" fill="#000"/>
<rect x="708" y="194" width="1" height="2" fill="#000"/>
<rect x="707" y="194" width="3" height="2" fill="#000"/>
<rect x="711" y="167" width="1" height="26" fill="#000"/>
<rect x="710.5" y="167.5" width="2" height="22" fill="#fff" stroke="#000" stroke-width="1"/>
<path d="M3.5 5.5V298.5H719.5V5.5H418M3.5 5.5H10" fill="none" stroke="#000" stroke-width="1"/>
<text x="775.5" y="37.7" text-anchor="end" fill="#000" text-rendering="geometricPrecision">2.6</text>
<text x="775.5" y="68.7" text-anchor="end" fill="#000" text-rendering="geometricPrecision">2.4</text>
<text x="775.5" y="99.7" text-anchor="end" fill="#000" text-rendering="geometricPrecision">2.2</text>
<text x="775.5" y="130.7" text-anchor="end" fill="#000" text-rendering="geometricPrecision">2.0</text>
<text x="775.5" y="161.7" text-anchor="end" fill="#000" text-rendering="geometricPrecision">1.8</text>
<text x="775.5" y="192.7" text-anchor="end" fill="#000" text-rendering="geometricPrecision">1.6</text>
<text x="775.5" y="223.7" text-anchor="end" fill="#000" text-rendering="geometricPrecision">1.4</text>
<text x="775.5" y="254.7" text-anchor="end" fill="#000" text-rendering="geometricPrecision">1.2</text>
<text x="775.5" y="285.7" text-anchor="end" fill="#000" text-rendering="geometricPrecision">1.0</text>
<line x1="5.5" x2="5.5" y1="299" y2="306" stroke="#000"/>
<text x="9" y="309.7" fill="#000">Feb</text>
<line x1="67.5" x2="67.5" y1="299" y2="306" stroke="#000"/>
<text x="71" y="309.7" fill="#000">Mar</text>
<line x1="144.5" x2="144.5" y1="299" y2="306" stroke="#000"/>
<text x="148" y="309.7" fill="#000">Apr</text>
<line x1="221.5" x2="221.5" y1="299" y2="306" stroke="#000"/>
<text x="225" y="309.7" fill="#000">May</text>
<line x1="297.5" x2="297.5" y1="299" y2="306" stroke="#000"/>
<text x="301" y="309.7" fill="#000">Jun</text>
<line x1="371.5" x2="371.5" y1="299" y2="306" stroke="#000"/>
<text x="375" y="309.7" fill="#000">Jul</text>
<line x1="451.5" x2="451.5" y1="299" y2="306" stroke="#000"/>
<text x="455" y="309.7" fill="#000">Aug</text>
<line x1="527.5" x2="527.5" y1="299" y2="306" stroke="#000"/>
<text x="531" y="309.7" fill="#000">Sep</text>
<line x1="604.5" x2="604.5" y1="299" y2="306" stroke="#000"/>
<text x="608" y="309.7" fill="#000">Oct</text>
<line x1="689.5" x2="689.5" y1="299" y2="306" stroke="#000"/>
<text x="693" y="309.7" fill="#000">Nov</text>
<text x="10.2" y="10.5" fill="#000" textLength="407" lengthAdjust="spacing">REFR - Daily 2025-11-11 Open 1.595, Hi 1.74, Lo 1.57, Close 1.74 (10.8%)</text>
<text x="10.2" y="24.5" fill="#000" textLength="509" lengthAdjust="spacing"><tspan fill="#ff0000">100%</tspan> = 2.70, <tspan fill="#ff00ff">78.6%</tspan> = 2.44, <tspan fill="#a0a4b0">61.8%</tspan> = 2.28, <tspan fill="#0000ff">50%</tspan> = 2.15, <tspan fill="#a0a4b0">38.2%</tspan> = 2.02, <tspan fill="#ff00ff">23.6%</tspan> = 1.84, <tspan fill="#008000">0%</tspan> = 1.60</text>
<line x1="4" x2="717" y1="332.5" y2="332.5" stroke="#000" stroke-width="1" stroke-dasharray="1 7"/>
<line x1="719" x2="724" y1="332.5" y2="332.5" stroke="#000" stroke-width="1"/>
<line x1="4" x2="717" y1="352.5" y2="352.5" stroke="#000" stroke-width="1" stroke-dasharray="1 7"/>
<line x1="719" x2="724" y1="352.5" y2="352.5" stroke="#000" stroke-width="1"/>
<line x1="4" x2="717" y1="371.5" y2="371.5" stroke="#000" stroke-width="1" stroke-dasharray="1 7"/>
<line x1="719" x2="724" y1="371.5" y2="371.5" stroke="#000" stroke-width="1"/>
<line x1="4" x2="717" y1="391.5" y2="391.5" stroke="#000" stroke-width="1" stroke-dasharray="1 7"/>
<line x1="719" x2="724" y1="391.5" y2="391.5" stroke="#000" stroke-width="1"/>
<line x1="4" x2="717" y1="411.5" y2="411.5" stroke="#000" stroke-width="1" stroke-dasharray="1 7"/>
<line x1="719" x2="724" y1="411.5" y2="411.5" stroke="#000" stroke-width="1"/>
<polyline points="4.0,396.4 30.0,398.0 60.0,398.5 100.0,398.0 110.0,396.0 130.0,397.0 150.0,398.4 170.5,404.0 191.0,402.5 197.2,397.8 211.5,390.6 228.0,386.5 240.3,383.5 244.4,374.2 252.6,358.8 260.8,351.3 273.0,350.6 277.2,352.7 283.3,361.9 289.5,368.0 298.2,371.8 306.4,370.1 316.7,371.8 326.9,376.3 337.2,384.5 349.5,394.7 361.8,398.8 372.0,400.9 382.3,399.9 392.6,400.9 401.8,397.8 413.0,390.6 423.3,383.5 430.0,381.4 434.1,380.0 440.3,383.5 450.5,386.5 460.8,394.7 471.0,400.9 483.3,399.3 495.6,398.8 565.4,399.3 573.6,393.7 578.2,390.6 586.4,384.5 594.6,378.7 602.8,376.3 611.0,378.7 615.1,380.8 623.3,379.4 631.5,378.3 652.0,377.9 658.2,380.4 663.3,386.5 668.5,385.5 671.5,381.4 701.3,381.4 705.4,388.6 710.5,396.4" fill="none" stroke="#808000" stroke-width="1" shape-rendering="crispEdges"/>
<polyline points="4.0,398.0 20.0,402.0 60.0,404.0 75.0,406.5 90.0,404.5 115.0,403.0 150.0,402.5 166.4,407.0 176.7,411.2 191.0,410.7 207.4,406.0 221.8,402.0 236.2,390.6 242.3,378.3 248.5,361.9 254.6,349.6 262.8,344.5 273.0,340.4 283.3,336.3 289.5,331.2 296.7,328.0" fill="none" stroke="#0000ff" stroke-width="1" shape-rendering="crispEdges"/>
<polyline points="314.6,328.7 320.8,340.4 331.0,357.8 343.3,370.1 357.7,381.4 372.0,392.7 384.4,402.9 392.6,405.6 400.8,406.0 411.0,402.9 421.3,396.4 430.0,391.7 438.2,389.6 450.5,390.2 460.8,391.7 471.0,393.1 483.3,396.8 491.5,400.9 501.8,406.0 510.0,409.1 518.2,407.0 528.5,404.6 540.8,406.0 565.4,406.6 573.6,399.9 578.2,399.9 590.5,394.7 602.8,389.6 615.1,381.4 623.3,372.2 631.5,362.9 637.7,358.2 641.8,358.8 652.0,364.0 660.3,369.1 664.4,373.2 668.5,371.2 672.6,365.0 676.7,364.0 691.0,364.4 697.2,371.2 703.3,380.4 709.5,388.2" fill="none" stroke="#0000ff" stroke-width="1" shape-rendering="crispEdges"/>
<polyline points="4.0,396.4 12.3,396.8 20.5,397.6 51.3,397.4 71.8,398.8 86.2,398.8 98.5,398.0 106.7,395.8 114.9,395.8 131.3,396.8 143.6,398.2 150.0,398.4 162.3,400.5 174.6,402.5 191.0,402.5 203.3,399.9 217.7,395.8 232.0,391.7 240.3,388.6 246.4,384.5 252.6,378.3 258.7,371.2 264.9,364.0 271.0,359.9 277.2,357.4 283.3,358.2 290.0,361.9 302.3,367.0 318.7,369.1 331.0,373.2 343.3,380.4 359.7,390.2 376.2,396.8 392.6,398.8 404.9,398.4 417.2,394.7 429.5,389.0 440.3,384.9 450.5,386.5 462.8,390.6 477.2,395.8 491.5,398.4 505.9,399.3 565.4,399.3 573.6,397.2 578.2,395.8 590.5,390.2 602.8,384.5 615.1,381.4 629.5,378.7 639.7,377.9 652.0,377.9 660.3,380.0 668.5,381.4 701.3,381.4 705.4,383.5 711.5,387.0" fill="none" stroke="#808000" stroke-width="1" shape-rendering="crispEdges"/>
<rect x="4" y="395" width="3" height="3" fill="#808000"/>
<rect x="7" y="395" width="3" height="3" fill="#808000"/>
<rect x="11" y="395" width="3" height="3" fill="#808000"/>
<rect x="14" y="396" width="3" height="3" fill="#808000"/>
<rect x="18" y="396" width="3" height="3" fill="#808000"/>
<rect x="22" y="396" width="3" height="3" fill="#808000"/>
<rect x="25" y="396" width="3" height="3" fill="#808000"/>
<rect x="29" y="396" width="3" height="3" fill="#808000"/>
<rect x="33" y="396" width="3" height="3" fill="#808000"/>
<rect x="36" y="396" width="3" height="3" fill="#808000"/>
<rect x="40" y="396" width="3" height="3" fill="#808000"/>
<rect x="44" y="396" width="3" height="3" fill="#808000"/>
<rect x="47" y="396" width="3" height="3" fill="#808000"/>
<rect x="51" y="396" width="3" height="3" fill="#808000"/>
<rect x="55" y="396" width="3" height="3" fill="#808000"/>
<rect x="58" y="396" width="3" height="3" fill="#808000"/>
<rect x="62" y="397" width="3" height="3" fill="#808000"/>
<rect x="66" y="397" width="3" height="3" fill="#808000"/>
<rect x="69" y="397" width="3" height="3" fill="#808000"/>
<rect x="73" y="397" width="3" height="3" fill="#808000"/>
<rect x="77" y="397" width="3" height="3" fill="#808000"/>
<rect x="80" y="397" width="3" height="3" fill="#808000"/>
<rect x="84" y="397" width="3" height="3" fill="#808000"/>
<rect x="88" y="397" width="3" height="3" fill="#808000"/>
<rect x="91" y="397" width="3" height="3" fill="#808000"/>
<rect x="95" y="397" width="3" height="3" fill="#808000"/>
<rect x="99" y="396" width="3" height="3" fill="#808000"/>
<rect x="102" y="395" width="3" height="3" fill="#808000"/>
<rect x="106" y="394" width="3" height="3" fill="#808000"/>
<rect x="110" y="394" width="3" height="3" fill="#808000"/>
<rect x="113" y="394" width="3" height="3" fill="#808000"/>
<rect x="117" y="395" width="3" height="3" fill="#808000"/>
<rect x="121" y="395" width="3" height="3" fill="#808000"/>
<rect x="124" y="395" width="3" height="3" fill="#808000"/>
<rect x="128" y="395" width="3" height="3" fill="#808000"/>
<rect x="132" y="396" width="3" height="3" fill="#808000"/>
<rect x="135" y="396" width="3" height="3" fill="#808000"/>
<rect x="139" y="396" width="3" height="3" fill="#808000"/>
<rect x="143" y="397" width="3" height="3" fill="#808000"/>
<rect x="146" y="397" width="3" height="3" fill="#808000"/>
<rect x="150" y="397" width="3" height="3" fill="#808000"/>
<rect x="154" y="398" width="3" height="3" fill="#808000"/>
<rect x="157" y="398" width="3" height="3" fill="#808000"/>
<rect x="161" y="399" width="3" height="3" fill="#808000"/>
<rect x="165" y="400" width="3" height="3" fill="#808000"/>
<rect x="168" y="400" width="3" height="3" fill="#808000"/>
<rect x="172" y="401" width="3" height="3" fill="#808000"/>
<rect x="176" y="401" width="3" height="3" fill="#808000"/>
<rect x="179" y="401" width="3" height="3" fill="#808000"/>
<rect x="183" y="401" width="3" height="3" fill="#808000"/>
<rect x="187" y="401" width="3" height="3" fill="#808000"/>
<rect x="190" y="401" width="3" height="3" fill="#808000"/>
<rect x="194" y="400" width="3" height="3" fill="#808000"/>
<rect x="198" y="399" width="3" height="3" fill="#808000"/>
<rect x="201" y="399" width="3" height="3" fill="#808000"/>
<rect x="205" y="397" width="3" height="3" fill="#808000"/>
<rect x="209" y="396" width="3" height="3" fill="#808000"/>
<rect x="212" y="395" width="3" height="3" fill="#808000"/>
<rect x="216" y="394" width="3" height="3" fill="#808000"/>
<rect x="220" y="393" width="3" height="3" fill="#808000"/>
<rect x="223" y="392" width="3" height="3" fill="#808000"/>
<rect x="227" y="391" width="3" height="3" fill="#808000"/>
<rect x="231" y="390" width="3" height="3" fill="#808000"/>
<rect x="234" y="389" width="3" height="3" fill="#808000"/>
<rect x="238" y="387" width="3" height="3" fill="#808000"/>
<rect x="242" y="385" width="3" height="3" fill="#808000"/>
<rect x="245" y="383" width="3" height="3" fill="#808000"/>
<rect x="249" y="379" width="3" height="3" fill="#808000"/>
<rect x="252" y="376" width="3" height="3" fill="#808000"/>
<rect x="256" y="371" width="3" height="3" fill="#808000"/>
<rect x="260" y="366" width="3" height="3" fill="#808000"/>
<rect x="263" y="363" width="3" height="3" fill="#808000"/>
<rect x="267" y="360" width="3" height="3" fill="#808000"/>
<rect x="271" y="358" width="3" height="3" fill="#808000"/>
<rect x="274" y="357" width="3" height="3" fill="#808000"/>
<rect x="278" y="356" width="3" height="3" fill="#808000"/>
<rect x="282" y="357" width="3" height="3" fill="#808000"/>
<rect x="285" y="358" width="3" height="3" fill="#808000"/>
<rect x="289" y="361" width="3" height="3" fill="#808000"/>
<rect x="293" y="362" width="3" height="3" fill="#808000"/>
<rect x="296" y="364" width="3" height="3" fill="#808000"/>
<rect x="300" y="365" width="3" height="3" fill="#808000"/>
<rect x="304" y="366" width="3" height="3" fill="#808000"/>
<rect x="307" y="366" width="3" height="3" fill="#808000"/>
<rect x="311" y="367" width="3" height="3" fill="#808000"/>
<rect x="315" y="367" width="3" height="3" fill="#808000"/>
<rect x="318" y="368" width="3" height="3" fill="#808000"/>
<rect x="322" y="369" width="3" height="3" fill="#808000"/>
<rect x="326" y="371" width="3" height="3" fill="#808000"/>
<rect x="329" y="372" width="3" height="3" fill="#808000"/>
<rect x="333" y="374" width="3" height="3" fill="#808000"/>
<rect x="337" y="376" width="3" height="3" fill="#808000"/>
<rect x="340" y="378" width="3" height="3" fill="#808000"/>
<rect x="344" y="380" width="3" height="3" fill="#808000"/>
<rect x="348" y="383" width="3" height="3" fill="#808000"/>
<rect x="351" y="384" width="3" height="3" fill="#808000"/>
<rect x="355" y="387" width="3" height="3" fill="#808000"/>
<rect x="359" y="389" width="3" height="3" fill="#808000"/>
<rect x="362" y="390" width="3" height="3" fill="#808000"/>
<rect x="366" y="392" width="3" height="3" fill="#808000"/>
<rect x="370" y="393" width="3" height="3" fill="#808000"/>
<rect x="373" y="395" width="3" height="3" fill="#808000"/>
<rect x="377" y="396" width="3" height="3" fill="#808000"/>
<rect x="381" y="396" width="3" height="3" fill="#808000"/>
<rect x="384" y="396" width="3" height="3" fill="#808000"/>
<rect x="388" y="397" width="3" height="3" fill="#808000"/>
<rect x="392" y="397" width="3" height="3" fill="#808000"/>
<rect x="395" y="397" width="3" height="3" fill="#808000"/>
<rect x="399" y="397" width="3" height="3" fill="#808000"/>
<rect x="403" y="397" width="3" height="3" fill="#808000"/>
<rect x="406" y="396" width="3" height="3" fill="#808000"/>
<rect x="410" y="395" width="3" height="3" fill="#808000"/>
<rect x="414" y="394" width="3" height="3" fill="#808000"/>
<rect x="417" y="393" width="3" height="3" fill="#808000"/>
<rect x="421" y="391" width="3" height="3" fill="#808000"/>
<rect x="425" y="389" width="3" height="3" fill="#808000"/>
<rect x="428" y="388" width="3" height="3" fill="#808000"/>
<rect x="432" y="386" width="3" height="3" fill="#808000"/>
<rect x="436" y="384" width="3" height="3" fill="#808000"/>
<rect x="439" y="383" width="3" height="3" fill="#808000"/>
<rect x="443" y="384" width="3" height="3" fill="#808000"/>
<rect x="447" y="385" width="3" height="3" fill="#808000"/>
<rect x="450" y="385" width="3" height="3" fill="#808000"/>
<rect x="454" y="387" width="3" height="3" fill="#808000"/>
<rect x="458" y="388" width="3" height="3" fill="#808000"/>
<rect x="461" y="389" width="3" height="3" fill="#808000"/>
<rect x="465" y="390" width="3" height="3" fill="#808000"/>
<rect x="469" y="392" width="3" height="3" fill="#808000"/>
<rect x="472" y="393" width="3" height="3" fill="#808000"/>
<rect x="476" y="394" width="3" height="3" fill="#808000"/>
<rect x="480" y="395" width="3" height="3" fill="#808000"/>
<rect x="483" y="396" width="3" height="3" fill="#808000"/>
<rect x="487" y="396" width="3" height="3" fill="#808000"/>
<rect x="491" y="397" width="3" height="3" fill="#808000"/>
<rect x="494" y="397" width="3" height="3" fill="#808000"/>
<rect x="498" y="397" width="3" height="3" fill="#808000"/>
<rect x="502" y="398" width="3" height="3" fill="#808000"/>
<rect x="505" y="398" width="3" height="3" fill="#808000"/>
<rect x="509" y="398" width="3" height="3" fill="#808000"/>
<rect x="513" y="398" width="3" height="3" fill="#808000"/>
<rect x="516" y="398" width="3" height="3" fill="#808000"/>
<rect x="520" y="398" width="3" height="3" fill="#808000"/>
<rect x="524" y="398" width="3" height="3" fill="#808000"/>
<rect x="527" y="398" width="3" height="3" fill="#808000"/>
<rect x="531" y="398" width="3" height="3" fill="#808000"/>
<rect x="535" y="398" width="3" height="3" fill="#808000"/>
<rect x="538" y="398" width="3" height="3" fill="#808000"/>
<rect x="542" y="398" width="3" height="3" fill="#808000"/>
<rect x="545" y="398" width="3" height="3" fill="#808000"/>
<rect x="549" y="398" width="3" height="3" fill="#808000"/>
<rect x="553" y="398" width="3" height="3" fill="#808000"/>
<rect x="556" y="398" width="3" height="3" fill="#808000"/>
<rect x="560" y="398" width="3" height="3" fill="#808000"/>
<rect x="564" y="398" width="3" height="3" fill="#808000"/>
<rect x="567" y="397" width="3" height="3" fill="#808000"/>
<rect x="571" y="396" width="3" height="3" fill="#808000"/>
<rect x="575" y="395" width="3" height="3" fill="#808000"/>
<rect x="578" y="394" width="3" height="3" fill="#808000"/>
<rect x="582" y="392" width="3" height="3" fill="#808000"/>
<rect x="586" y="390" width="3" height="3" fill="#808000"/>
<rect x="589" y="389" width="3" height="3" fill="#808000"/>
<rect x="593" y="387" width="3" height="3" fill="#808000"/>
<rect x="597" y="385" width="3" height="3" fill="#808000"/>
<rect x="600" y="384" width="3" height="3" fill="#808000"/>
<rect x="604" y="382" width="3" height="3" fill="#808000"/>
<rect x="608" y="381" width="3" height="3" fill="#808000"/>
<rect x="611" y="381" width="3" height="3" fill="#808000"/>
<rect x="615" y="380" width="3" height="3" fill="#808000"/>
<rect x="619" y="379" width="3" height="3" fill="#808000"/>
<rect x="622" y="378" width="3" height="3" fill="#808000"/>
<rect x="626" y="378" width="3" height="3" fill="#808000"/>
<rect x="630" y="377" width="3" height="3" fill="#808000"/>
<rect x="633" y="377" width="3" height="3" fill="#808000"/>
<rect x="637" y="376" width="3" height="3" fill="#808000"/>
<rect x="641" y="376" width="3" height="3" fill="#808000"/>
<rect x="644" y="376" width="3" height="3" fill="#808000"/>
<rect x="648" y="376" width="3" height="3" fill="#808000"/>
<rect x="652" y="377" width="3" height="3" fill="#808000"/>
<rect x="655" y="378" width="3" height="3" fill="#808000"/>
<rect x="659" y="379" width="3" height="3" fill="#808000"/>
<rect x="663" y="379" width="3" height="3" fill="#808000"/>
<rect x="666" y="380" width="3" height="3" fill="#808000"/>
<rect x="670" y="380" width="3" height="3" fill="#808000"/>
<rect x="674" y="380" width="3" height="3" fill="#808000"/>
<rect x="677" y="380" width="3" height="3" fill="#808000"/>
<rect x="681" y="380" width="3" height="3" fill="#808000"/>
<rect x="685" y="380" width="3" height="3" fill="#808000"/>
<rect x="688" y="380" width="3" height="3" fill="#808000"/>
<rect x="692" y="380" width="3" height="3" fill="#808000"/>
<rect x="696" y="380" width="3" height="3" fill="#808000"/>
<rect x="699" y="380" width="3" height="3" fill="#808000"/>
<rect x="703" y="382" width="3" height="3" fill="#808000"/>
<rect x="707" y="384" width="3" height="3" fill="#808000"/>
<rect x="710" y="386" width="3" height="3" fill="#808000"/>
<polyline points="4.0,397.8 16.4,400.5 30.8,401.9 51.3,402.9 67.7,404.0 73.8,405.0 82.0,404.0 106.7,404.0 114.9,402.9 150.0,402.5 162.3,405.0 174.6,407.5 186.9,409.1 197.2,408.7 209.5,407.0 221.8,404.6 232.0,401.3 240.3,396.8 246.4,390.2 252.6,379.4 258.7,371.2 264.9,364.0 273.0,355.8 283.3,346.5 290.0,342.4 302.3,334.2 314.6,329.5 322.8,333.2 335.1,344.5 351.5,361.9 372.0,379.4 388.5,391.7 400.8,398.8 406.9,401.3 417.2,400.5 429.5,396.8 438.2,393.1 448.5,391.1 462.8,391.1 477.2,391.7 489.5,394.7 499.7,399.3 510.0,402.9 522.3,404.6 536.7,406.0 549.0,406.4 565.4,406.4 573.6,404.0 578.2,403.4 590.5,398.4 602.8,392.7 615.1,387.6 625.4,381.4 633.6,374.2 641.8,368.5 650.0,366.0 658.2,367.0 666.4,369.7 674.6,367.0 682.8,366.0 691.0,366.0 697.2,367.5 703.3,371.2 711.5,377.3" fill="none" stroke="#0000ff" stroke-width="1" shape-rendering="crispEdges"/>
<rect x="4" y="397" width="3" height="3" fill="#0000ff"/>
<rect x="7" y="397" width="3" height="3" fill="#0000ff"/>
<rect x="11" y="398" width="3" height="3" fill="#0000ff"/>
<rect x="14" y="399" width="3" height="3" fill="#0000ff"/>
<rect x="18" y="399" width="3" height="3" fill="#0000ff"/>
<rect x="22" y="400" width="3" height="3" fill="#0000ff"/>
<rect x="25" y="400" width="3" height="3" fill="#0000ff"/>
<rect x="29" y="400" width="3" height="3" fill="#0000ff"/>
<rect x="33" y="401" width="3" height="3" fill="#0000ff"/>
<rect x="36" y="401" width="3" height="3" fill="#0000ff"/>
<rect x="40" y="401" width="3" height="3" fill="#0000ff"/>
<rect x="44" y="401" width="3" height="3" fill="#0000ff"/>
<rect x="47" y="401" width="3" height="3" fill="#0000ff"/>
<rect x="51" y="401" width="3" height="3" fill="#0000ff"/>
<rect x="55" y="402" width="3" height="3" fill="#0000ff"/>
<rect x="58" y="402" width="3" height="3" fill="#0000ff"/>
<rect x="62" y="402" width="3" height="3" fill="#0000ff"/>
<rect x="66" y="402" width="3" height="3" fill="#0000ff"/>
<rect x="69" y="403" width="3" height="3" fill="#0000ff"/>
<rect x="73" y="403" width="3" height="3" fill="#0000ff"/>
<rect x="77" y="403" width="3" height="3" fill="#0000ff"/>
<rect x="80" y="403" width="3" height="3" fill="#0000ff"/>
<rect x="84" y="402" width="3" height="3" fill="#0000ff"/>
<rect x="88" y="402" width="3" height="3" fill="#0000ff"/>
<rect x="91" y="402" width="3" height="3" fill="#0000ff"/>
<rect x="95" y="402" width="3" height="3" fill="#0000ff"/>
<rect x="99" y="402" width="3" height="3" fill="#0000ff"/>
<rect x="102" y="402" width="3" height="3" fill="#0000ff"/>
<rect x="106" y="402" width="3" height="3" fill="#0000ff"/>
<rect x="110" y="402" width="3" height="3" fill="#0000ff"/>
<rect x="113" y="401" width="3" height="3" fill="#0000ff"/>
<rect x="117" y="401" width="3" height="3" fill="#0000ff"/>
<rect x="121" y="401" width="3" height="3" fill="#0000ff"/>
<rect x="124" y="401" width="3" height="3" fill="#0000ff"/>
<rect x="128" y="401" width="3" height="3" fill="#0000ff"/>
<rect x="132" y="401" width="3" height="3" fill="#0000ff"/>
<rect x="135" y="401" width="3" height="3" fill="#0000ff"/>
<rect x="139" y="401" width="3" height="3" fill="#0000ff"/>
<rect x="143" y="401" width="3" height="3" fill="#0000ff"/>
<rect x="146" y="401" width="3" height="3" fill="#0000ff"/>
<rect x="150" y="401" width="3" height="3" fill="#0000ff"/>
<rect x="154" y="402" width="3" height="3" fill="#0000ff"/>
<rect x="157" y="403" width="3" height="3" fill="#0000ff"/>
<rect x="161" y="404" width="3" height="3" fill="#0000ff"/>
<rect x="165" y="404" width="3" height="3" fill="#0000ff"/>
<rect x="168" y="405" width="3" height="3" fill="#0000ff"/>
<rect x="172" y="406" width="3" height="3" fill="#0000ff"/>
<rect x="176" y="406" width="3" height="3" fill="#0000ff"/>
<rect x="179" y="407" width="3" height="3" fill="#0000ff"/>
<rect x="183" y="407" width="3" height="3" fill="#0000ff"/>
<rect x="187" y="408" width="3" height="3" fill="#0000ff"/>
<rect x="190" y="407" width="3" height="3" fill="#0000ff"/>
<rect x="194" y="407" width="3" height="3" fill="#0000ff"/>
<rect x="198" y="407" width="3" height="3" fill="#0000ff"/>
<rect x="201" y="406" width="3" height="3" fill="#0000ff"/>
<rect x="205" y="406" width="3" height="3" fill="#0000ff"/>
<rect x="209" y="405" width="3" height="3" fill="#0000ff"/>
<rect x="212" y="405" width="3" height="3" fill="#0000ff"/>
<rect x="216" y="404" width="3" height="3" fill="#0000ff"/>
<rect x="220" y="403" width="3" height="3" fill="#0000ff"/>
<rect x="223" y="402" width="3" height="3" fill="#0000ff"/>
<rect x="227" y="401" width="3" height="3" fill="#0000ff"/>
<rect x="231" y="400" width="3" height="3" fill="#0000ff"/>
<rect x="234" y="398" width="3" height="3" fill="#0000ff"/>
<rect x="238" y="396" width="3" height="3" fill="#0000ff"/>
<rect x="242" y="392" width="3" height="3" fill="#0000ff"/>
<rect x="245" y="389" width="3" height="3" fill="#0000ff"/>
<rect x="249" y="382" width="3" height="3" fill="#0000ff"/>
<rect x="252" y="377" width="3" height="3" fill="#0000ff"/>
<rect x="256" y="371" width="3" height="3" fill="#0000ff"/>
<rect x="260" y="366" width="3" height="3" fill="#0000ff"/>
<rect x="263" y="363" width="3" height="3" fill="#0000ff"/>
<rect x="267" y="359" width="3" height="3" fill="#0000ff"/>
<rect x="271" y="355" width="3" height="3" fill="#0000ff"/>
<rect x="274" y="352" width="3" height="3" fill="#0000ff"/>
<rect x="278" y="348" width="3" height="3" fill="#0000ff"/>
<rect x="282" y="345" width="3" height="3" fill="#0000ff"/>
<rect x="285" y="343" width="3" height="3" fill="#0000ff"/>
<rect x="289" y="341" width="3" height="3" fill="#0000ff"/>
<rect x="293" y="338" width="3" height="3" fill="#0000ff"/>
<rect x="296" y="336" width="3" height="3" fill="#0000ff"/>
<rect x="300" y="333" width="3" height="3" fill="#0000ff"/>
<rect x="304" y="331" width="3" height="3" fill="#0000ff"/>
<rect x="307" y="330" width="3" height="3" fill="#0000ff"/>
<rect x="311" y="329" width="3" height="3" fill="#0000ff"/>
<rect x="315" y="329" width="3" height="3" fill="#0000ff"/>
<rect x="318" y="330" width="3" height="3" fill="#0000ff"/>
<rect x="322" y="332" width="3" height="3" fill="#0000ff"/>
<rect x="326" y="336" width="3" height="3" fill="#0000ff"/>
<rect x="329" y="339" width="3" height="3" fill="#0000ff"/>
<rect x="333" y="342" width="3" height="3" fill="#0000ff"/>
<rect x="337" y="347" width="3" height="3" fill="#0000ff"/>
<rect x="340" y="350" width="3" height="3" fill="#0000ff"/>
<rect x="344" y="354" width="3" height="3" fill="#0000ff"/>
<rect x="348" y="358" width="3" height="3" fill="#0000ff"/>
<rect x="351" y="361" width="3" height="3" fill="#0000ff"/>
<rect x="355" y="365" width="3" height="3" fill="#0000ff"/>
<rect x="359" y="368" width="3" height="3" fill="#0000ff"/>
<rect x="362" y="371" width="3" height="3" fill="#0000ff"/>
<rect x="366" y="374" width="3" height="3" fill="#0000ff"/>
<rect x="370" y="377" width="3" height="3" fill="#0000ff"/>
<rect x="373" y="380" width="3" height="3" fill="#0000ff"/>
<rect x="377" y="383" width="3" height="3" fill="#0000ff"/>
<rect x="381" y="386" width="3" height="3" fill="#0000ff"/>
<rect x="384" y="388" width="3" height="3" fill="#0000ff"/>
<rect x="388" y="391" width="3" height="3" fill="#0000ff"/>
<rect x="392" y="393" width="3" height="3" fill="#0000ff"/>
<rect x="395" y="395" width="3" height="3" fill="#0000ff"/>
<rect x="399" y="397" width="3" height="3" fill="#0000ff"/>
<rect x="403" y="399" width="3" height="3" fill="#0000ff"/>
<rect x="406" y="400" width="3" height="3" fill="#0000ff"/>
<rect x="410" y="399" width="3" height="3" fill="#0000ff"/>
<rect x="414" y="399" width="3" height="3" fill="#0000ff"/>
<rect x="417" y="399" width="3" height="3" fill="#0000ff"/>
<rect x="421" y="397" width="3" height="3" fill="#0000ff"/>
<rect x="425" y="396" width="3" height="3" fill="#0000ff"/>
<rect x="428" y="395" width="3" height="3" fill="#0000ff"/>
<rect x="432" y="394" width="3" height="3" fill="#0000ff"/>
<rect x="436" y="392" width="3" height="3" fill="#0000ff"/>
<rect x="439" y="391" width="3" height="3" fill="#0000ff"/>
<rect x="443" y="390" width="3" height="3" fill="#0000ff"/>
<rect x="447" y="390" width="3" height="3" fill="#0000ff"/>
<rect x="450" y="390" width="3" height="3" fill="#0000ff"/>
<rect x="454" y="390" width="3" height="3" fill="#0000ff"/>
<rect x="458" y="390" width="3" height="3" fill="#0000ff"/>
<rect x="461" y="390" width="3" height="3" fill="#0000ff"/>
<rect x="465" y="390" width="3" height="3" fill="#0000ff"/>
<rect x="469" y="390" width="3" height="3" fill="#0000ff"/>
<rect x="472" y="390" width="3" height="3" fill="#0000ff"/>
<rect x="476" y="390" width="3" height="3" fill="#0000ff"/>
<rect x="480" y="391" width="3" height="3" fill="#0000ff"/>
<rect x="483" y="392" width="3" height="3" fill="#0000ff"/>
<rect x="487" y="393" width="3" height="3" fill="#0000ff"/>
<rect x="491" y="395" width="3" height="3" fill="#0000ff"/>
<rect x="494" y="396" width="3" height="3" fill="#0000ff"/>
<rect x="498" y="398" width="3" height="3" fill="#0000ff"/>
<rect x="502" y="399" width="3" height="3" fill="#0000ff"/>
<rect x="505" y="400" width="3" height="3" fill="#0000ff"/>
<rect x="509" y="401" width="3" height="3" fill="#0000ff"/>
<rect x="513" y="402" width="3" height="3" fill="#0000ff"/>
<rect x="516" y="402" width="3" height="3" fill="#0000ff"/>
<rect x="520" y="403" width="3" height="3" fill="#0000ff"/>
<rect x="524" y="403" width="3" height="3" fill="#0000ff"/>
<rect x="527" y="404" width="3" height="3" fill="#0000ff"/>
<rect x="531" y="404" width="3" height="3" fill="#0000ff"/>
<rect x="535" y="404" width="3" height="3" fill="#0000ff"/>
<rect x="538" y="405" width="3" height="3" fill="#0000ff"/>
<rect x="542" y="405" width="3" height="3" fill="#0000ff"/>
<rect x="545" y="405" width="3" height="3" fill="#0000ff"/>
<rect x="549" y="405" width="3" height="3" fill="#0000ff"/>
<rect x="553" y="405" width="3" height="3" fill="#0000ff"/>
<rect x="556" y="405" width="3" height="3" fill="#0000ff"/>
<rect x="560" y="405" width="3" height="3" fill="#0000ff"/>
<rect x="564" y="405" width="3" height="3" fill="#0000ff"/>
<rect x="567" y="404" width="3" height="3" fill="#0000ff"/>
<rect x="571" y="403" width="3" height="3" fill="#0000ff"/>
<rect x="575" y="402" width="3" height="3" fill="#0000ff"/>
<rect x="578" y="401" width="3" height="3" fill="#0000ff"/>
<rect x="582" y="400" width="3" height="3" fill="#0000ff"/>
<rect x="586" y="398" width="3" height="3" fill="#0000ff"/>
<rect x="589" y="397" width="3" height="3" fill="#0000ff"/>
<rect x="593" y="395" width="3" height="3" fill="#0000ff"/>
<rect x="597" y="393" width="3" height="3" fill="#0000ff"/>
<rect x="600" y="392" width="3" height="3" fill="#0000ff"/>
<rect x="604" y="390" width="3" height="3" fill="#0000ff"/>
<rect x="608" y="388" width="3" height="3" fill="#0000ff"/>
<rect x="611" y="387" width="3" height="3" fill="#0000ff"/>
<rect x="615" y="385" width="3" height="3" fill="#0000ff"/>
<rect x="619" y="383" width="3" height="3" fill="#0000ff"/>
<rect x="622" y="381" width="3" height="3" fill="#0000ff"/>
<rect x="626" y="378" width="3" height="3" fill="#0000ff"/>
<rect x="630" y="375" width="3" height="3" fill="#0000ff"/>
<rect x="633" y="372" width="3" height="3" fill="#0000ff"/>
<rect x="637" y="369" width="3" height="3" fill="#0000ff"/>
<rect x="641" y="367" width="3" height="3" fill="#0000ff"/>
<rect x="644" y="366" width="3" height="3" fill="#0000ff"/>
<rect x="648" y="365" width="3" height="3" fill="#0000ff"/>
<rect x="652" y="365" width="3" height="3" fill="#0000ff"/>
<rect x="655" y="365" width="3" height="3" fill="#0000ff"/>
<rect x="659" y="366" width="3" height="3" fill="#0000ff"/>
<rect x="663" y="368" width="3" height="3" fill="#0000ff"/>
<rect x="666" y="368" width="3" height="3" fill="#0000ff"/>
<rect x="670" y="367" width="3" height="3" fill="#0000ff"/>
<rect x="674" y="365" width="3" height="3" fill="#0000ff"/>
<rect x="677" y="365" width="3" height="3" fill="#0000ff"/>
<rect x="681" y="365" width="3" height="3" fill="#0000ff"/>
<rect x="685" y="364" width="3" height="3" fill="#0000ff"/>
<rect x="688" y="364" width="3" height="3" fill="#0000ff"/>
<rect x="692" y="365" width="3" height="3" fill="#0000ff"/>
<rect x="696" y="366" width="3" height="3" fill="#0000ff"/>
<rect x="699" y="368" width="3" height="3" fill="#0000ff"/>
<rect x="703" y="371" width="3" height="3" fill="#0000ff"/>
<rect x="707" y="374" width="3" height="3" fill="#0000ff"/>
<rect x="710" y="376" width="3" height="3" fill="#0000ff"/>
<path d="M52 383h1v1h-1zM52 384h1v1h-1zM51 385h3v1h-3zM51 386h3v1h-3zM50 387h5v1h-5zM50 388h5v1h-5zM49 389h7v1h-7zM49 390h7v1h-7zM48 391h9v1h-9zM51 392h3v1h-3zM51 393h3v1h-3zM51 394h3v1h-3zM51 395h3v1h-3zM51 396h3v1h-3zM51 397h3v1h-3z" fill="#009000"/>
<path d="M81 383h1v1h-1zM81 384h1v1h-1zM80 385h3v1h-3zM80 386h3v1h-3zM79 387h5v1h-5zM79 388h5v1h-5zM78 389h7v1h-7zM78 390h7v1h-7zM77 391h9v1h-9zM80 392h3v1h-3zM80 393h3v1h-3zM80 394h3v1h-3zM80 395h3v1h-3zM80 396h3v1h-3zM80 397h3v1h-3z" fill="#009000"/>
<path d="M89 383h1v1h-1zM89 384h1v1h-1zM88 385h3v1h-3zM88 386h3v1h-3zM87 387h5v1h-5zM87 388h5v1h-5zM86 389h7v1h-7zM86 390h7v1h-7zM85 391h9v1h-9zM88 392h3v1h-3zM88 393h3v1h-3zM88 394h3v1h-3zM88 395h3v1h-3zM88 396h3v1h-3zM88 397h3v1h-3z" fill="#009000"/>
<path d="M133 383h1v1h-1zM133 384h1v1h-1zM132 385h3v1h-3zM132 386h3v1h-3zM131 387h5v1h-5zM131 388h5v1h-5zM130 389h7v1h-7zM130 390h7v1h-7zM129 391h9v1h-9zM132 392h3v1h-3zM132 393h3v1h-3zM132 394h3v1h-3zM132 395h3v1h-3zM132 396h3v1h-3zM132 397h3v1h-3z" fill="#009000"/>
<path d="M140 383h1v1h-1zM140 384h1v1h-1zM139 385h3v1h-3zM139 386h3v1h-3zM138 387h5v1h-5zM138 388h5v1h-5zM137 389h7v1h-7zM137 390h7v1h-7zM136 391h9v1h-9zM139 392h3v1h-3zM139 393h3v1h-3zM139 394h3v1h-3zM139 395h3v1h-3zM139 396h3v1h-3zM139 397h3v1h-3z" fill="#009000"/>
<path d="M191 383h1v1h-1zM191 384h1v1h-1zM190 385h3v1h-3zM190 386h3v1h-3zM189 387h5v1h-5zM189 388h5v1h-5zM188 389h7v1h-7zM188 390h7v1h-7zM187 391h9v1h-9zM190 392h3v1h-3zM190 393h3v1h-3zM190 394h3v1h-3zM190 395h3v1h-3zM190 396h3v1h-3zM190 397h3v1h-3z" fill="#009000"/>
<path d="M195 383h1v1h-1zM195 384h1v1h-1zM194 385h3v1h-3zM194 386h3v1h-3zM193 387h5v1h-5zM193 388h5v1h-5zM192 389h7v1h-7zM192 390h7v1h-7zM191 391h9v1h-9zM194 392h3v1h-3zM194 393h3v1h-3zM194 394h3v1h-3zM194 395h3v1h-3zM194 396h3v1h-3zM194 397h3v1h-3z" fill="#009000"/>
<path d="M404 383h1v1h-1zM404 384h1v1h-1zM403 385h3v1h-3zM403 386h3v1h-3zM402 387h5v1h-5zM402 388h5v1h-5zM401 389h7v1h-7zM401 390h7v1h-7zM400 391h9v1h-9zM403 392h3v1h-3zM403 393h3v1h-3zM403 394h3v1h-3zM403 395h3v1h-3zM403 396h3v1h-3zM403 397h3v1h-3z" fill="#009000"/>
<path d="M415 383h1v1h-1zM415 384h1v1h-1zM414 385h3v1h-3zM414 386h3v1h-3zM413 387h5v1h-5zM413 388h5v1h-5zM412 389h7v1h-7zM412 390h7v1h-7zM411 391h9v1h-9zM414 392h3v1h-3zM414 393h3v1h-3zM414 394h3v1h-3zM414 395h3v1h-3zM414 396h3v1h-3zM414 397h3v1h-3z" fill="#009000"/>
<path d="M521 383h1v1h-1zM521 384h1v1h-1zM520 385h3v1h-3zM520 386h3v1h-3zM519 387h5v1h-5zM519 388h5v1h-5zM518 389h7v1h-7zM518 390h7v1h-7zM517 391h9v1h-9zM520 392h3v1h-3zM520 393h3v1h-3zM520 394h3v1h-3zM520 395h3v1h-3zM520 396h3v1h-3zM520 397h3v1h-3z" fill="#009000"/>
<path d="M565 383h1v1h-1zM565 384h1v1h-1zM564 385h3v1h-3zM564 386h3v1h-3zM563 387h5v1h-5zM563 388h5v1h-5zM562 389h7v1h-7zM562 390h7v1h-7zM561 391h9v1h-9zM564 392h3v1h-3zM564 393h3v1h-3zM564 394h3v1h-3zM564 395h3v1h-3zM564 396h3v1h-3zM564 397h3v1h-3z" fill="#009000"/>
<path d="M282 384h3v1h-3zM282 385h3v1h-3zM282 386h3v1h-3zM282 387h3v1h-3zM282 388h3v1h-3zM282 389h3v1h-3zM279 390h9v1h-9zM280 391h7v1h-7zM280 392h7v1h-7zM281 393h5v1h-5zM281 394h5v1h-5zM282 395h3v1h-3zM282 396h3v1h-3zM283 397h1v1h-1zM283 398h1v1h-1z" fill="#ff0000"/>
<path d="M315 384h3v1h-3zM315 385h3v1h-3zM315 386h3v1h-3zM315 387h3v1h-3zM315 388h3v1h-3zM315 389h3v1h-3zM312 390h9v1h-9zM313 391h7v1h-7zM313 392h7v1h-7zM314 393h5v1h-5zM314 394h5v1h-5zM315 395h3v1h-3zM315 396h3v1h-3zM316 397h1v1h-1zM316 398h1v1h-1z" fill="#ff0000"/>
<path d="M447 384h3v1h-3zM447 385h3v1h-3zM447 386h3v1h-3zM447 387h3v1h-3zM447 388h3v1h-3zM447 389h3v1h-3zM444 390h9v1h-9zM445 391h7v1h-7zM445 392h7v1h-7zM446 393h5v1h-5zM446 394h5v1h-5zM447 395h3v1h-3zM447 396h3v1h-3zM448 397h1v1h-1zM448 398h1v1h-1z" fill="#ff0000"/>
<path d="M469 384h3v1h-3zM469 385h3v1h-3zM469 386h3v1h-3zM469 387h3v1h-3zM469 388h3v1h-3zM469 389h3v1h-3zM466 390h9v1h-9zM467 391h7v1h-7zM467 392h7v1h-7zM468 393h5v1h-5zM468 394h5v1h-5zM469 395h3v1h-3zM469 396h3v1h-3zM470 397h1v1h-1zM470 398h1v1h-1z" fill="#ff0000"/>
<path d="M655 384h3v1h-3zM655 385h3v1h-3zM655 386h3v1h-3zM655 387h3v1h-3zM655 388h3v1h-3zM655 389h3v1h-3zM652 390h9v1h-9zM653 391h7v1h-7zM653 392h7v1h-7zM654 393h5v1h-5zM654 394h5v1h-5zM655 395h3v1h-3zM655 396h3v1h-3zM656 397h1v1h-1zM656 398h1v1h-1z" fill="#ff0000"/>
<path d="M659 384h3v1h-3zM659 385h3v1h-3zM659 386h3v1h-3zM659 387h3v1h-3zM659 388h3v1h-3zM659 389h3v1h-3zM656 390h9v1h-9zM657 391h7v1h-7zM657 392h7v1h-7zM658 393h5v1h-5zM658 394h5v1h-5zM659 395h3v1h-3zM659 396h3v1h-3zM660 397h1v1h-1zM660 398h1v1h-1z" fill="#ff0000"/>
<path d="M692 384h3v1h-3zM692 385h3v1h-3zM692 386h3v1h-3zM692 387h3v1h-3zM692 388h3v1h-3zM692 389h3v1h-3zM689 390h9v1h-9zM690 391h7v1h-7zM690 392h7v1h-7zM691 393h5v1h-5zM691 394h5v1h-5zM692 395h3v1h-3zM692 396h3v1h-3zM693 397h1v1h-1zM693 398h1v1h-1z" fill="#ff0000"/>
<path d="M3.5 319.5V413.5H719.5V319.5H432M3.5 319.5H10" fill="none" stroke="#000" stroke-width="1"/>
<text x="775.5" y="335.7" text-anchor="end" fill="#000" text-rendering="geometricPrecision">60</text>
<text x="775.5" y="355.7" text-anchor="end" fill="#000" text-rendering="geometricPrecision">40</text>
<text x="775.5" y="374.7" text-anchor="end" fill="#000" text-rendering="geometricPrecision">20</text>
<text x="775.5" y="394.7" text-anchor="end" fill="#000" text-rendering="geometricPrecision">0</text>
<text x="775.5" y="414.7" text-anchor="end" fill="#000" text-rendering="geometricPrecision">-20</text>
<text x="10.2" y="324.5" fill="#000" textLength="421" lengthAdjust="spacing">REFR - <tspan fill="#808000">ShortPds</tspan> = -6.43, <tspan fill="#808000">ShortPds</tspan> = 4.07, <tspan fill="#0000ff">LongPds</tspan> = 1.98, <tspan fill="#0000ff">LongPds</tspan> = 14.05</text>
<line x1="4" x2="717" y1="450.5" y2="450.5" stroke="#000" stroke-width="1" stroke-dasharray="1 7"/>
<line x1="719" x2="724" y1="450.5" y2="450.5" stroke="#000" stroke-width="1"/>
<line x1="4" x2="717" y1="488.5" y2="488.5" stroke="#000" stroke-width="1" stroke-dasharray="1 7"/>
<line x1="719" x2="724" y1="488.5" y2="488.5" stroke="#000" stroke-width="1"/>
<line x1="4" x2="717" y1="527.5" y2="527.5" stroke="#000" stroke-width="1" stroke-dasharray="1 7"/>
<line x1="719" x2="724" y1="527.5" y2="527.5" stroke="#000" stroke-width="1"/>
<line x1="4" x2="717" y1="565.5" y2="565.5" stroke="#000" stroke-width="1" stroke-dasharray="1 7"/>
<line x1="719" x2="724" y1="565.5" y2="565.5" stroke="#000" stroke-width="1"/>
<line x1="4" x2="717" y1="604.5" y2="604.5" stroke="#000" stroke-width="1" stroke-dasharray="1 7"/>
<line x1="719" x2="724" y1="604.5" y2="604.5" stroke="#000" stroke-width="1"/>
<line x1="4" x2="717" y1="642.5" y2="642.5" stroke="#000" stroke-width="1" stroke-dasharray="1 7"/>
<line x1="719" x2="724" y1="642.5" y2="642.5" stroke="#000" stroke-width="1"/>
<line x1="4" x2="717" y1="681.5" y2="681.5" stroke="#000" stroke-width="1" stroke-dasharray="1 7"/>
<line x1="719" x2="724" y1="681.5" y2="681.5" stroke="#000" stroke-width="1"/>
<line x1="4" x2="717" y1="719.5" y2="719.5" stroke="#000" stroke-width="1" stroke-dasharray="1 7"/>
<line x1="719" x2="724" y1="719.5" y2="719.5" stroke="#000" stroke-width="1"/>
<polyline points="4.0,621.7 8.4,628.7 11.2,628.7 16.9,636.0 37.4,636.0 44.7,644.7 47.7,645.3 56.8,646.5 59.2,650.7 61.6,655.6 65.2,660.4 69.4,667.0 73.7,668.2 110.0,668.2 115.0,670.0 116.2,674.9 118.6,682.7 121.7,691.8 151.9,692.4 153.7,695.4 155.5,707.5 157.9,717.1 162.1,719.5 168.5,721.3 175.7,722.5 239.7,722.5 246.3,712.6 258.5,712.2 270.7,710.9 275.4,707.5 286.1,707.5 290.5,690.0 295.2,687.7 300.8,678.3 303.6,665.2 306.1,646.4 307.4,614.4 308.7,604.1 330.4,604.3 339.2,585.1 345.2,585.1 348.6,586.8 355.3,588.6 363.3,588.6 366.7,594.2 369.7,601.7 372.0,604.2 381.1,604.2 384.2,609.0 389.0,618.0 451.7,618.1 455.7,606.4 460.4,606.7 464.4,608.5 471.1,613.6 475.2,616.8 480.5,616.5 485.9,619.2 491.4,626.8 495.4,638.9 499.4,641.6 522.9,643.2 526.3,648.3 531.0,655.0 539.0,664.4 544.4,665.8 551.1,667.1 556.5,668.5 561.3,673.3 623.8,673.3 627.2,669.8 628.6,664.2 630.5,649.4 631.9,644.4 638.5,644.4 642.4,640.5 645.5,639.9 648.1,632.4 649.8,628.5 678.3,628.7 680.9,614.7 686.2,594.6 699.3,594.6 702.8,596.4 708.0,604.2 710.6,605.1" fill="none" stroke="#009000" stroke-width="1" shape-rendering="crispEdges"/>
<polyline points="5.1,567.8 8.3,573.4 26.2,573.4 28.2,581.8 30.2,600.6 36.9,604.3 74.5,604.3 77.9,612.0 81.9,612.7 85.2,617.0 92.3,617.0 95.3,628.8 98.1,635.0 100.5,638.4 118.6,638.4 122.3,644.4 140.4,644.4 144.0,650.5 162.7,650.5 163.6,651.2 166.6,668.1 170.3,669.0 173.3,671.5 178.1,671.7 184.2,679.0 191.6,679.0 195.6,685.0 199.3,685.3 202.3,689.3 213.1,689.3 217.4,695.3 223.4,695.3 227.0,691.1 231.3,688.6 237.3,685.0 238.8,684.9 239.7,678.3 241.6,638.9 243.5,606.0 247.7,594.5 253.1,596.0 259.2,585.5 263.4,583.9 271.8,583.9 275.5,577.0 283.9,576.2 286.9,566.8 288.7,555.9 290.6,546.2 294.8,545.0 297.8,540.2 300.8,531.7 309.9,530.5 315.9,525.5 378.8,525.1 382.1,535.1 388.8,546.5 393.5,548.3 396.9,555.3 400.9,572.7 406.0,575.6 408.0,572.9 411.4,555.4 422.8,555.4 426.2,551.4 488.6,551.4 495.3,560.1 500.0,560.8 516.9,600.0 521.6,608.1 524.9,611.4 531.6,611.4 535.0,617.2 545.7,617.4 550.4,618.8 553.8,626.8 557.1,632.9 560.5,634.5 583.3,634.5 584.6,626.8 585.4,611.1 587.4,597.7 616.9,597.4 618.9,593.0 622.0,581.6 625.0,568.2 627.7,560.1 630.3,557.2 633.7,556.1 638.4,547.4 666.6,547.4 668.0,527.2 668.2,507.1 669.3,480.3 670.4,452.8 671.7,438.5 711.0,438.5" fill="none" stroke="#ff0000" stroke-width="1" shape-rendering="crispEdges"/>
<rect x="4" y="621" width="3" height="1" fill="#000"/>
<rect x="7" y="621" width="3" height="5" fill="#000"/>
<rect x="11" y="625" width="3" height="11" fill="#000"/>
<rect x="14" y="635" width="3" height="8" fill="#000"/>
<rect x="18.5" y="612.5" width="2" height="30" fill="#fff" stroke="#000" stroke-width="1"/>
<rect x="22.5" y="612.5" width="2" height="19" fill="#fff" stroke="#000" stroke-width="1"/>
<rect x="25" y="631" width="3" height="6" fill="#000"/>
<rect x="29" y="635" width="3" height="1" fill="#000"/>
<rect x="33" y="635" width="3" height="12" fill="#000"/>
<rect x="36" y="642" width="3" height="5" fill="#000"/>
<rect x="40" y="642" width="3" height="3" fill="#000"/>
<rect x="44" y="644" width="3" height="5" fill="#000"/>
<rect x="47" y="645" width="3" height="4" fill="#000"/>
<rect x="51" y="646" width="3" height="1" fill="#000"/>
<rect x="55" y="646" width="3" height="1" fill="#000"/>
<rect x="58" y="646" width="3" height="15" fill="#000"/>
<rect x="62" y="652" width="3" height="9" fill="#000"/>
<rect x="66" y="652" width="3" height="20" fill="#000"/>
<rect x="69" y="671" width="3" height="1" fill="#000"/>
<rect x="73.5" y="667.5" width="2" height="4" fill="#fff" stroke="#000" stroke-width="1"/>
<rect x="77.5" y="656.5" width="2" height="11" fill="#fff" stroke="#000" stroke-width="1"/>
<rect x="80.5" y="654.5" width="2" height="2" fill="#fff" stroke="#000" stroke-width="1"/>
<rect x="84" y="654" width="3" height="18" fill="#000"/>
<rect x="88" y="664" width="3" height="8" fill="#000"/>
<rect x="91" y="664" width="3" height="3" fill="#000"/>
<rect x="95.5" y="654.5" width="2" height="12" fill="#fff" stroke="#000" stroke-width="1"/>
<rect x="99.5" y="654.5" width="2" height="10" fill="#fff" stroke="#000" stroke-width="1"/>
<rect x="102" y="664" width="3" height="4" fill="#000"/>
<rect x="106" y="667" width="3" height="5" fill="#000"/>
<rect x="110" y="669" width="3" height="3" fill="#000"/>
<rect x="113" y="669" width="3" height="3" fill="#000"/>
<rect x="117" y="671" width="3" height="9" fill="#000"/>
<rect x="121" y="679" width="3" height="11" fill="#000"/>
<rect x="124" y="679" width="3" height="11" fill="#000"/>
<rect x="128" y="679" width="3" height="5" fill="#000"/>
<rect x="132" y="683" width="3" height="1" fill="#000"/>
<rect x="135" y="683" width="3" height="11" fill="#000"/>
<rect x="139" y="693" width="3" height="2" fill="#000"/>
<rect x="143" y="694" width="3" height="1" fill="#000"/>
<rect x="146" y="694" width="3" height="1" fill="#000"/>
<rect x="150" y="693" width="3" height="2" fill="#000"/>
<rect x="154" y="693" width="3" height="14" fill="#000"/>
<rect x="157" y="706" width="3" height="12" fill="#000"/>
<rect x="161" y="717" width="3" height="5" fill="#000"/>
<rect x="165" y="721" width="3" height="1" fill="#000"/>
<rect x="168" y="721" width="3" height="3" fill="#000"/>
<rect x="172" y="723" width="3" height="3" fill="#000"/>
<rect x="176" y="725" width="3" height="1" fill="#000"/>
<rect x="179.5" y="718.5" width="2" height="7" fill="#fff" stroke="#000" stroke-width="1"/>
<rect x="183" y="718" width="3" height="1" fill="#000"/>
<rect x="187.5" y="716.5" width="2" height="2" fill="#fff" stroke="#000" stroke-width="1"/>
<rect x="190" y="716" width="3" height="1" fill="#000"/>
<rect x="194" y="716" width="3" height="1" fill="#000"/>
<rect x="198.5" y="710.5" width="2" height="6" fill="#fff" stroke="#000" stroke-width="1"/>
<rect x="201.5" y="710.5" width="2" height="2" fill="#fff" stroke="#000" stroke-width="1"/>
<rect x="205.5" y="708.5" width="2" height="4" fill="#fff" stroke="#000" stroke-width="1"/>
<rect x="209" y="708" width="3" height="7" fill="#000"/>
<rect x="212.5" y="706.5" width="2" height="8" fill="#fff" stroke="#000" stroke-width="1"/>
<rect x="216.5" y="706.5" width="2" height="4" fill="#fff" stroke="#000" stroke-width="1"/>
<rect x="220.5" y="708.5" width="2" height="2" fill="#fff" stroke="#000" stroke-width="1"/>
<rect x="223.5" y="694.5" width="2" height="14" fill="#fff" stroke="#000" stroke-width="1"/>
<rect x="227.5" y="689.5" width="2" height="5" fill="#fff" stroke="#000" stroke-width="1"/>
<rect x="231.5" y="689.5" width="2" height="2" fill="#fff" stroke="#000" stroke-width="1"/>
<rect x="234.5" y="689.5" width="2" height="2" fill="#fff" stroke="#000" stroke-width="1"/>
<rect x="238.5" y="683.5" width="2" height="6" fill="#fff" stroke="#000" stroke-width="1"/>
<rect x="242.5" y="606.5" width="2" height="77" fill="#fff" stroke="#000" stroke-width="1"/>
<rect x="245.5" y="581.5" width="2" height="25" fill="#fff" stroke="#000" stroke-width="1"/>
<rect x="249.5" y="581.5" width="2" height="15" fill="#fff" stroke="#000" stroke-width="1"/>
<rect x="252" y="596" width="3" height="1" fill="#000"/>
<rect x="256.5" y="579.5" width="2" height="17" fill="#fff" stroke="#000" stroke-width="1"/>
<rect x="260.5" y="579.5" width="2" height="11" fill="#fff" stroke="#000" stroke-width="1"/>
<rect x="263" y="590" width="3" height="11" fill="#000"/>
<rect x="267" y="600" width="3" height="5" fill="#000"/>
<rect x="271.5" y="592.5" width="2" height="12" fill="#fff" stroke="#000" stroke-width="1"/>
<rect x="274.5" y="579.5" width="2" height="13" fill="#fff" stroke="#000" stroke-width="1"/>
<rect x="278.5" y="579.5" width="2" height="6" fill="#fff" stroke="#000" stroke-width="1"/>
<rect x="282" y="585" width="3" height="5" fill="#000"/>
<rect x="285.5" y="558.5" width="2" height="31" fill="#fff" stroke="#000" stroke-width="1"/>
<rect x="289.5" y="558.5" width="2" height="2" fill="#fff" stroke="#000" stroke-width="1"/>
<rect x="293" y="560" width="3" height="1" fill="#000"/>
<rect x="296.5" y="529.5" width="2" height="31" fill="#fff" stroke="#000" stroke-width="1"/>
<rect x="300.5" y="517.5" width="2" height="12" fill="#fff" stroke="#000" stroke-width="1"/>
<rect x="304.5" y="517.5" width="2" height="10" fill="#fff" stroke="#000" stroke-width="1"/>
<rect x="307.5" y="523.5" width="2" height="4" fill="#fff" stroke="#000" stroke-width="1"/>
<rect x="311.5" y="523.5" width="2" height="4" fill="#fff" stroke="#000" stroke-width="1"/>
<rect x="315" y="527" width="3" height="1" fill="#000"/>
<rect x="318" y="527" width="3" height="18" fill="#000"/>
<rect x="322" y="542" width="3" height="3" fill="#000"/>
<rect x="326" y="542" width="3" height="5" fill="#000"/>
<rect x="329" y="546" width="3" height="7" fill="#000"/>
<rect x="333" y="552" width="3" height="11" fill="#000"/>
<rect x="337" y="562" width="3" height="8" fill="#000"/>
<rect x="340" y="569" width="3" height="7" fill="#000"/>
<rect x="344" y="575" width="3" height="3" fill="#000"/>
<rect x="348" y="577" width="3" height="13" fill="#000"/>
<rect x="351.5" y="563.5" width="2" height="26" fill="#fff" stroke="#000" stroke-width="1"/>
<rect x="355" y="563" width="3" height="28" fill="#000"/>
<rect x="359" y="588" width="3" height="3" fill="#000"/>
<rect x="362" y="588" width="3" height="7" fill="#000"/>
<rect x="366" y="594" width="3" height="3" fill="#000"/>
<rect x="370" y="596" width="3" height="19" fill="#000"/>
<rect x="373" y="602" width="3" height="13" fill="#000"/>
<rect x="377.5" y="596.5" width="2" height="6" fill="#fff" stroke="#000" stroke-width="1"/>
<rect x="381" y="596" width="3" height="15" fill="#000"/>
<rect x="384" y="610" width="3" height="16" fill="#000"/>
<rect x="388" y="621" width="3" height="5" fill="#000"/>
<rect x="392.5" y="606.5" width="2" height="15" fill="#fff" stroke="#000" stroke-width="1"/>
<rect x="395.5" y="606.5" width="2" height="2" fill="#fff" stroke="#000" stroke-width="1"/>
<rect x="399.5" y="604.5" width="2" height="4" fill="#fff" stroke="#000" stroke-width="1"/>
<rect x="403.5" y="592.5" width="2" height="12" fill="#fff" stroke="#000" stroke-width="1"/>
<rect x="406.5" y="573.5" width="2" height="19" fill="#fff" stroke="#000" stroke-width="1"/>
<rect x="410.5" y="567.5" width="2" height="6" fill="#fff" stroke="#000" stroke-width="1"/>
<rect x="414.5" y="565.5" width="2" height="2" fill="#fff" stroke="#000" stroke-width="1"/>
<rect x="417" y="565" width="3" height="17" fill="#000"/>
<rect x="421" y="566" width="3" height="16" fill="#000"/>
<rect x="425.5" y="560.5" width="2" height="6" fill="#fff" stroke="#000" stroke-width="1"/>
<rect x="428.5" y="560.5" width="2" height="3" fill="#fff" stroke="#000" stroke-width="1"/>
<rect x="432.5" y="558.5" width="2" height="5" fill="#fff" stroke="#000" stroke-width="1"/>
<rect x="436" y="558" width="3" height="26" fill="#000"/>
<rect x="439" y="583" width="3" height="18" fill="#000"/>
<rect x="443" y="594" width="3" height="7" fill="#000"/>
<rect x="447" y="594" width="3" height="15" fill="#000"/>
<rect x="450" y="604" width="3" height="5" fill="#000"/>
<rect x="454" y="604" width="3" height="5" fill="#000"/>
<rect x="458" y="608" width="3" height="3" fill="#000"/>
<rect x="461" y="610" width="3" height="8" fill="#000"/>
<rect x="465" y="610" width="3" height="8" fill="#000"/>
<rect x="469" y="610" width="3" height="8" fill="#000"/>
<rect x="472" y="617" width="3" height="7" fill="#000"/>
<rect x="476" y="623" width="3" height="1" fill="#000"/>
<rect x="480.5" y="620.5" width="2" height="3" fill="#fff" stroke="#000" stroke-width="1"/>
<rect x="483.5" y="619.5" width="2" height="2" fill="#fff" stroke="#000" stroke-width="1"/>
<rect x="487" y="619" width="3" height="11" fill="#000"/>
<rect x="491" y="629" width="3" height="1" fill="#000"/>
<rect x="494" y="629" width="3" height="9" fill="#000"/>
<rect x="498" y="637" width="3" height="8" fill="#000"/>
<rect x="502" y="644" width="3" height="5" fill="#000"/>
<rect x="505.5" y="642.5" width="2" height="6" fill="#fff" stroke="#000" stroke-width="1"/>
<rect x="509.5" y="642.5" width="2" height="4" fill="#fff" stroke="#000" stroke-width="1"/>
<rect x="513.5" y="642.5" width="2" height="4" fill="#fff" stroke="#000" stroke-width="1"/>
<rect x="516" y="642" width="3" height="1" fill="#000"/>
<rect x="520.5" y="629.5" width="2" height="13" fill="#fff" stroke="#000" stroke-width="1"/>
<rect x="524" y="629" width="3" height="24" fill="#000"/>
<rect x="527" y="652" width="3" height="3" fill="#000"/>
<rect x="531" y="654" width="3" height="5" fill="#000"/>
<rect x="535" y="658" width="3" height="5" fill="#000"/>
<rect x="538" y="662" width="3" height="4" fill="#000"/>
<rect x="542" y="662" width="3" height="4" fill="#000"/>
<rect x="545" y="662" width="3" height="10" fill="#000"/>
<rect x="549" y="664" width="3" height="8" fill="#000"/>
<rect x="553" y="664" width="3" height="4" fill="#000"/>
<rect x="556" y="667" width="3" height="5" fill="#000"/>
<rect x="560" y="669" width="3" height="3" fill="#000"/>
<rect x="564.5" y="652.5" width="2" height="17" fill="#fff" stroke="#000" stroke-width="1"/>
<rect x="567.5" y="646.5" width="2" height="6" fill="#fff" stroke="#000" stroke-width="1"/>
<rect x="571.5" y="642.5" width="2" height="4" fill="#fff" stroke="#000" stroke-width="1"/>
<rect x="575.5" y="637.5" width="2" height="5" fill="#fff" stroke="#000" stroke-width="1"/>
<rect x="578.5" y="637.5" width="2" height="3" fill="#fff" stroke="#000" stroke-width="1"/>
<rect x="582.5" y="639.5" width="2" height="2" fill="#fff" stroke="#000" stroke-width="1"/>
<rect x="586.5" y="587.5" width="2" height="52" fill="#fff" stroke="#000" stroke-width="1"/>
<rect x="589.5" y="587.5" width="2" height="25" fill="#fff" stroke="#000" stroke-width="1"/>
<rect x="593" y="612" width="3" height="4" fill="#000"/>
<rect x="597" y="615" width="3" height="7" fill="#000"/>
<rect x="600.5" y="606.5" width="2" height="15" fill="#fff" stroke="#000" stroke-width="1"/>
<rect x="604.5" y="606.5" width="2" height="4" fill="#fff" stroke="#000" stroke-width="1"/>
<rect x="608" y="610" width="3" height="24" fill="#000"/>
<rect x="611" y="633" width="3" height="3" fill="#000"/>
<rect x="615.5" y="615.5" width="2" height="20" fill="#fff" stroke="#000" stroke-width="1"/>
<rect x="619.5" y="567.5" width="2" height="48" fill="#fff" stroke="#000" stroke-width="1"/>
<rect x="622.5" y="550.5" width="2" height="17" fill="#fff" stroke="#000" stroke-width="1"/>
<rect x="626.5" y="548.5" width="2" height="2" fill="#fff" stroke="#000" stroke-width="1"/>
<rect x="630" y="548" width="3" height="15" fill="#000"/>
<rect x="633" y="562" width="3" height="1" fill="#000"/>
<rect x="637" y="562" width="3" height="2" fill="#000"/>
<rect x="641" y="563" width="3" height="7" fill="#000"/>
<rect x="644" y="569" width="3" height="32" fill="#000"/>
<rect x="648" y="596" width="3" height="5" fill="#000"/>
<rect x="652.5" y="579.5" width="2" height="17" fill="#fff" stroke="#000" stroke-width="1"/>
<rect x="655.5" y="579.5" width="2" height="8" fill="#fff" stroke="#000" stroke-width="1"/>
<rect x="659" y="587" width="3" height="8" fill="#000"/>
<rect x="663" y="594" width="3" height="3" fill="#000"/>
<rect x="666.5" y="527.5" width="2" height="69" fill="#fff" stroke="#000" stroke-width="1"/>
<rect x="670.5" y="458.5" width="2" height="69" fill="#fff" stroke="#000" stroke-width="1"/>
<rect x="674.5" y="458.5" width="2" height="65" fill="#fff" stroke="#000" stroke-width="1"/>
<rect x="677.5" y="521.5" width="2" height="2" fill="#fff" stroke="#000" stroke-width="1"/>
<rect x="681" y="521" width="3" height="38" fill="#000"/>
<rect x="685" y="537" width="3" height="22" fill="#000"/>
<rect x="688" y="537" width="3" height="14" fill="#000"/>
<rect x="692" y="550" width="3" height="27" fill="#000"/>
<rect x="696" y="576" width="3" height="8" fill="#000"/>
<rect x="699" y="583" width="3" height="22" fill="#000"/>
<rect x="703" y="604" width="3" height="5" fill="#000"/>
<rect x="707" y="610" width="3" height="1" fill="#000"/>
<rect x="710.5" y="577.5" width="2" height="33" fill="#fff" stroke="#000" stroke-width="1"/>
<path d="M19 649h1v1h-1zM19 650h1v1h-1zM18 651h3v1h-3zM18 652h3v1h-3zM17 653h5v1h-5zM17 654h5v1h-5zM16 655h7v1h-7zM16 656h7v1h-7zM15 657h9v1h-9zM18 658h3v1h-3zM18 659h3v1h-3zM18 660h3v1h-3zM18 661h3v1h-3zM18 662h3v1h-3zM18 663h3v1h-3z" fill="#009000"/>
<path d="M74 678h1v1h-1zM74 679h1v1h-1zM73 680h3v1h-3zM73 681h3v1h-3zM72 682h5v1h-5zM72 683h5v1h-5zM71 684h7v1h-7zM71 685h7v1h-7zM70 686h9v1h-9zM73 687h3v1h-3zM73 688h3v1h-3zM73 689h3v1h-3zM73 690h3v1h-3zM73 691h3v1h-3zM73 692h3v1h-3z" fill="#009000"/>
<path d="M96 673h1v1h-1zM96 674h1v1h-1zM95 675h3v1h-3zM95 676h3v1h-3zM94 677h5v1h-5zM94 678h5v1h-5zM93 679h7v1h-7zM93 680h7v1h-7zM92 681h9v1h-9zM95 682h3v1h-3zM95 683h3v1h-3zM95 684h3v1h-3zM95 685h3v1h-3zM95 686h3v1h-3zM95 687h3v1h-3z" fill="#009000"/>
<path d="M151 701h1v1h-1zM151 702h1v1h-1zM150 703h3v1h-3zM150 704h3v1h-3zM149 705h5v1h-5zM149 706h5v1h-5zM148 707h7v1h-7zM148 708h7v1h-7zM147 709h9v1h-9zM150 710h3v1h-3zM150 711h3v1h-3zM150 712h3v1h-3zM150 713h3v1h-3zM150 714h3v1h-3zM150 715h3v1h-3z" fill="#009000"/>
<path d="M180 732h1v1h-1zM180 733h1v1h-1zM179 734h3v1h-3zM179 735h3v1h-3zM178 736h5v1h-5zM178 737h5v1h-5zM177 738h7v1h-7zM177 739h7v1h-7zM176 740h9v1h-9zM179 741h3v1h-3zM179 742h3v1h-3zM179 743h3v1h-3zM179 744h3v1h-3zM179 745h3v1h-3zM179 746h3v1h-3z" fill="#009000"/>
<path d="M352 596h1v1h-1zM352 597h1v1h-1zM351 598h3v1h-3zM351 599h3v1h-3zM350 600h5v1h-5zM350 601h5v1h-5zM349 602h7v1h-7zM349 603h7v1h-7zM348 604h9v1h-9zM351 605h3v1h-3zM351 606h3v1h-3zM351 607h3v1h-3zM351 608h3v1h-3zM351 609h3v1h-3zM351 610h3v1h-3z" fill="#009000"/>
<path d="M378 609h1v1h-1zM378 610h1v1h-1zM377 611h3v1h-3zM377 612h3v1h-3zM376 613h5v1h-5zM376 614h5v1h-5zM375 615h7v1h-7zM375 616h7v1h-7zM374 617h9v1h-9zM377 618h3v1h-3zM377 619h3v1h-3zM377 620h3v1h-3zM377 621h3v1h-3zM377 622h3v1h-3zM377 623h3v1h-3z" fill="#009000"/>
<path d="M393 628h1v1h-1zM393 629h1v1h-1zM392 630h3v1h-3zM392 631h3v1h-3zM391 632h5v1h-5zM391 633h5v1h-5zM390 634h7v1h-7zM390 635h7v1h-7zM389 636h9v1h-9zM392 637h3v1h-3zM392 638h3v1h-3zM392 639h3v1h-3zM392 640h3v1h-3zM392 641h3v1h-3zM392 642h3v1h-3z" fill="#009000"/>
<path d="M481 630h1v1h-1zM481 631h1v1h-1zM480 632h3v1h-3zM480 633h3v1h-3zM479 634h5v1h-5zM479 635h5v1h-5zM478 636h7v1h-7zM478 637h7v1h-7zM477 638h9v1h-9zM480 639h3v1h-3zM480 640h3v1h-3zM480 641h3v1h-3zM480 642h3v1h-3zM480 643h3v1h-3zM480 644h3v1h-3z" fill="#009000"/>
<path d="M506 655h1v1h-1zM506 656h1v1h-1zM505 657h3v1h-3zM505 658h3v1h-3zM504 659h5v1h-5zM504 660h5v1h-5zM503 661h7v1h-7zM503 662h7v1h-7zM502 663h9v1h-9zM505 664h3v1h-3zM505 665h3v1h-3zM505 666h3v1h-3zM505 667h3v1h-3zM505 668h3v1h-3zM505 669h3v1h-3z" fill="#009000"/>
<path d="M513 653h1v1h-1zM513 654h1v1h-1zM512 655h3v1h-3zM512 656h3v1h-3zM511 657h5v1h-5zM511 658h5v1h-5zM510 659h7v1h-7zM510 660h7v1h-7zM509 661h9v1h-9zM512 662h3v1h-3zM512 663h3v1h-3zM512 664h3v1h-3zM512 665h3v1h-3zM512 666h3v1h-3zM512 667h3v1h-3z" fill="#009000"/>
<path d="M565 676h1v1h-1zM565 677h1v1h-1zM564 678h3v1h-3zM564 679h3v1h-3zM563 680h5v1h-5zM563 681h5v1h-5zM562 682h7v1h-7zM562 683h7v1h-7zM561 684h9v1h-9zM564 685h3v1h-3zM564 686h3v1h-3zM564 687h3v1h-3zM564 688h3v1h-3zM564 689h3v1h-3zM564 690h3v1h-3z" fill="#009000"/>
<path d="M653 603h1v1h-1zM653 604h1v1h-1zM652 605h3v1h-3zM652 606h3v1h-3zM651 607h5v1h-5zM651 608h5v1h-5zM650 609h7v1h-7zM650 610h7v1h-7zM649 611h9v1h-9zM652 612h3v1h-3zM652 613h3v1h-3zM652 614h3v1h-3zM652 615h3v1h-3zM652 616h3v1h-3zM652 617h3v1h-3z" fill="#009000"/>
<path d="M711 617h1v1h-1zM711 618h1v1h-1zM710 619h3v1h-3zM710 620h3v1h-3zM709 621h5v1h-5zM709 622h5v1h-5zM708 623h7v1h-7zM708 624h7v1h-7zM707 625h9v1h-9zM710 626h3v1h-3zM710 627h3v1h-3zM710 628h3v1h-3zM710 629h3v1h-3zM710 630h3v1h-3zM710 631h3v1h-3z" fill="#009000"/>
<path d="M25 609h3v1h-3zM25 610h3v1h-3zM25 611h3v1h-3zM25 612h3v1h-3zM25 613h3v1h-3zM25 614h3v1h-3zM22 615h9v1h-9zM23 616h7v1h-7zM23 617h7v1h-7zM24 618h5v1h-5zM24 619h5v1h-5zM25 620h3v1h-3zM25 621h3v1h-3zM26 622h1v1h-1zM26 623h1v1h-1z" fill="#ff0000"/>
<path d="M84 632h3v1h-3zM84 633h3v1h-3zM84 634h3v1h-3zM84 635h3v1h-3zM84 636h3v1h-3zM84 637h3v1h-3zM81 638h9v1h-9zM82 639h7v1h-7zM82 640h7v1h-7zM83 641h5v1h-5zM83 642h5v1h-5zM84 643h3v1h-3zM84 644h3v1h-3zM85 645h1v1h-1zM85 646h1v1h-1z" fill="#ff0000"/>
<path d="M102 642h3v1h-3zM102 643h3v1h-3zM102 644h3v1h-3zM102 645h3v1h-3zM102 646h3v1h-3zM102 647h3v1h-3zM99 648h9v1h-9zM100 649h7v1h-7zM100 650h7v1h-7zM101 651h5v1h-5zM101 652h5v1h-5zM102 653h3v1h-3zM102 654h3v1h-3zM103 655h1v1h-1zM103 656h1v1h-1z" fill="#ff0000"/>
<path d="M209 685h3v1h-3zM209 686h3v1h-3zM209 687h3v1h-3zM209 688h3v1h-3zM209 689h3v1h-3zM209 690h3v1h-3zM206 691h9v1h-9zM207 692h7v1h-7zM207 693h7v1h-7zM208 694h5v1h-5zM208 695h5v1h-5zM209 696h3v1h-3zM209 697h3v1h-3zM210 698h1v1h-1zM210 699h1v1h-1z" fill="#ff0000"/>
<path d="M263 567h3v1h-3zM263 568h3v1h-3zM263 569h3v1h-3zM263 570h3v1h-3zM263 571h3v1h-3zM263 572h3v1h-3zM260 573h9v1h-9zM261 574h7v1h-7zM261 575h7v1h-7zM262 576h5v1h-5zM262 577h5v1h-5zM263 578h3v1h-3zM263 579h3v1h-3zM264 580h1v1h-1zM264 581h1v1h-1z" fill="#ff0000"/>
<path d="M282 562h3v1h-3zM282 563h3v1h-3zM282 564h3v1h-3zM282 565h3v1h-3zM282 566h3v1h-3zM282 567h3v1h-3zM279 568h9v1h-9zM280 569h7v1h-7zM280 570h7v1h-7zM281 571h5v1h-5zM281 572h5v1h-5zM282 573h3v1h-3zM282 574h3v1h-3zM283 575h1v1h-1zM283 576h1v1h-1z" fill="#ff0000"/>
<path d="M318 505h3v1h-3zM318 506h3v1h-3zM318 507h3v1h-3zM318 508h3v1h-3zM318 509h3v1h-3zM318 510h3v1h-3zM315 511h9v1h-9zM316 512h7v1h-7zM316 513h7v1h-7zM317 514h5v1h-5zM317 515h5v1h-5zM318 516h3v1h-3zM318 517h3v1h-3zM319 518h1v1h-1zM319 519h1v1h-1z" fill="#ff0000"/>
<path d="M417 543h3v1h-3zM417 544h3v1h-3zM417 545h3v1h-3zM417 546h3v1h-3zM417 547h3v1h-3zM417 548h3v1h-3zM414 549h9v1h-9zM415 550h7v1h-7zM415 551h7v1h-7zM416 552h5v1h-5zM416 553h5v1h-5zM417 554h3v1h-3zM417 555h3v1h-3zM418 556h1v1h-1zM418 557h1v1h-1z" fill="#ff0000"/>
<path d="M436 536h3v1h-3zM436 537h3v1h-3zM436 538h3v1h-3zM436 539h3v1h-3zM436 540h3v1h-3zM436 541h3v1h-3zM433 542h9v1h-9zM434 543h7v1h-7zM434 544h7v1h-7zM435 545h5v1h-5zM435 546h5v1h-5zM436 547h3v1h-3zM436 548h3v1h-3zM437 549h1v1h-1zM437 550h1v1h-1z" fill="#ff0000"/>
<path d="M487 597h3v1h-3zM487 598h3v1h-3zM487 599h3v1h-3zM487 600h3v1h-3zM487 601h3v1h-3zM487 602h3v1h-3zM484 603h9v1h-9zM485 604h7v1h-7zM485 605h7v1h-7zM486 606h5v1h-5zM486 607h5v1h-5zM487 608h3v1h-3zM487 609h3v1h-3zM488 610h1v1h-1zM488 611h1v1h-1z" fill="#ff0000"/>
<path d="M523 607h3v1h-3zM523 608h3v1h-3zM523 609h3v1h-3zM523 610h3v1h-3zM523 611h3v1h-3zM523 612h3v1h-3zM520 613h9v1h-9zM521 614h7v1h-7zM521 615h7v1h-7zM522 616h5v1h-5zM522 617h5v1h-5zM523 618h3v1h-3zM523 619h3v1h-3zM524 620h1v1h-1zM524 621h1v1h-1z" fill="#ff0000"/>
<path d="M593 590h3v1h-3zM593 591h3v1h-3zM593 592h3v1h-3zM593 593h3v1h-3zM593 594h3v1h-3zM593 595h3v1h-3zM590 596h9v1h-9zM591 597h7v1h-7zM591 598h7v1h-7zM592 599h5v1h-5zM592 600h5v1h-5zM593 601h3v1h-3zM593 602h3v1h-3zM594 603h1v1h-1zM594 604h1v1h-1z" fill="#ff0000"/>
<path d="M608 588h3v1h-3zM608 589h3v1h-3zM608 590h3v1h-3zM608 591h3v1h-3zM608 592h3v1h-3zM608 593h3v1h-3zM605 594h9v1h-9zM606 595h7v1h-7zM606 596h7v1h-7zM607 597h5v1h-5zM607 598h5v1h-5zM608 599h3v1h-3zM608 600h3v1h-3zM609 601h1v1h-1zM609 602h1v1h-1z" fill="#ff0000"/>
<path d="M630 525h3v1h-3zM630 526h3v1h-3zM630 527h3v1h-3zM630 528h3v1h-3zM630 529h3v1h-3zM630 530h3v1h-3zM627 531h9v1h-9zM628 532h7v1h-7zM628 533h7v1h-7zM629 534h5v1h-5zM629 535h5v1h-5zM630 536h3v1h-3zM630 537h3v1h-3zM631 538h1v1h-1zM631 539h1v1h-1z" fill="#ff0000"/>
<path d="M659 565h3v1h-3zM659 566h3v1h-3zM659 567h3v1h-3zM659 568h3v1h-3zM659 569h3v1h-3zM659 570h3v1h-3zM656 571h9v1h-9zM657 572h7v1h-7zM657 573h7v1h-7zM658 574h5v1h-5zM658 575h5v1h-5zM659 576h3v1h-3zM659 577h3v1h-3zM660 578h1v1h-1zM660 579h1v1h-1z" fill="#ff0000"/>
<path d="M681 499h3v1h-3zM681 500h3v1h-3zM681 501h3v1h-3zM681 502h3v1h-3zM681 503h3v1h-3zM681 504h3v1h-3zM678 505h9v1h-9zM679 506h7v1h-7zM679 507h7v1h-7zM680 508h5v1h-5zM680 509h5v1h-5zM681 510h3v1h-3zM681 511h3v1h-3zM682 512h1v1h-1zM682 513h1v1h-1z" fill="#ff0000"/>
<path d="M3.5 423.5V731.5H719.5V423.5H418M3.5 423.5H10" fill="none" stroke="#000" stroke-width="1"/>
<text x="775.5" y="453.7" text-anchor="end" fill="#000" text-rendering="geometricPrecision">2.4</text>
<text x="775.5" y="491.7" text-anchor="end" fill="#000" text-rendering="geometricPrecision">2.2</text>
<text x="775.5" y="530.7" text-anchor="end" fill="#000" text-rendering="geometricPrecision">2.0</text>
<text x="775.5" y="568.7" text-anchor="end" fill="#000" text-rendering="geometricPrecision">1.8</text>
<text x="775.5" y="607.7" text-anchor="end" fill="#000" text-rendering="geometricPrecision">1.6</text>
<text x="775.5" y="645.7" text-anchor="end" fill="#000" text-rendering="geometricPrecision">1.4</text>
<text x="775.5" y="684.7" text-anchor="end" fill="#000" text-rendering="geometricPrecision">1.2</text>
<text x="775.5" y="722.7" text-anchor="end" fill="#000" text-rendering="geometricPrecision">1.0</text>
<line x1="5.5" x2="5.5" y1="732" y2="739" stroke="#000"/>
<text x="9" y="742.7" fill="#000">Feb</text>
<line x1="67.5" x2="67.5" y1="732" y2="739" stroke="#000"/>
<text x="71" y="742.7" fill="#000">Mar</text>
<line x1="144.5" x2="144.5" y1="732" y2="739" stroke="#000"/>
<text x="148" y="742.7" fill="#000">Apr</text>
<line x1="221.5" x2="221.5" y1="732" y2="739" stroke="#000"/>
<text x="225" y="742.7" fill="#000">May</text>
<line x1="297.5" x2="297.5" y1="732" y2="739" stroke="#000"/>
<text x="301" y="742.7" fill="#000">Jun</text>
<line x1="371.5" x2="371.5" y1="732" y2="739" stroke="#000"/>
<text x="375" y="742.7" fill="#000">Jul</text>
<line x1="451.5" x2="451.5" y1="732" y2="739" stroke="#000"/>
<text x="455" y="742.7" fill="#000">Aug</text>
<line x1="527.5" x2="527.5" y1="732" y2="739" stroke="#000"/>
<text x="531" y="742.7" fill="#000">Sep</text>
<line x1="604.5" x2="604.5" y1="732" y2="739" stroke="#000"/>
<text x="608" y="742.7" fill="#000">Oct</text>
<line x1="689.5" x2="689.5" y1="732" y2="739" stroke="#000"/>
<text x="693" y="742.7" fill="#000">Nov</text>
<text x="10.2" y="428.5" fill="#000" textLength="401" lengthAdjust="spacing">REFR - Daily 2025-11-11 Open 1.595,Hi 1.74,Lo 1.57, Close 1.74 (10.8%)</text>
<text x="10.2" y="442.5" fill="#000" textLength="235.5" lengthAdjust="spacing">Vol 3,658,600 <tspan fill="#ff0000">graph8</tspan> = 2.46, <tspan fill="#008000">graph9</tspan> = 1.60</text>
</svg>
</body></html>
